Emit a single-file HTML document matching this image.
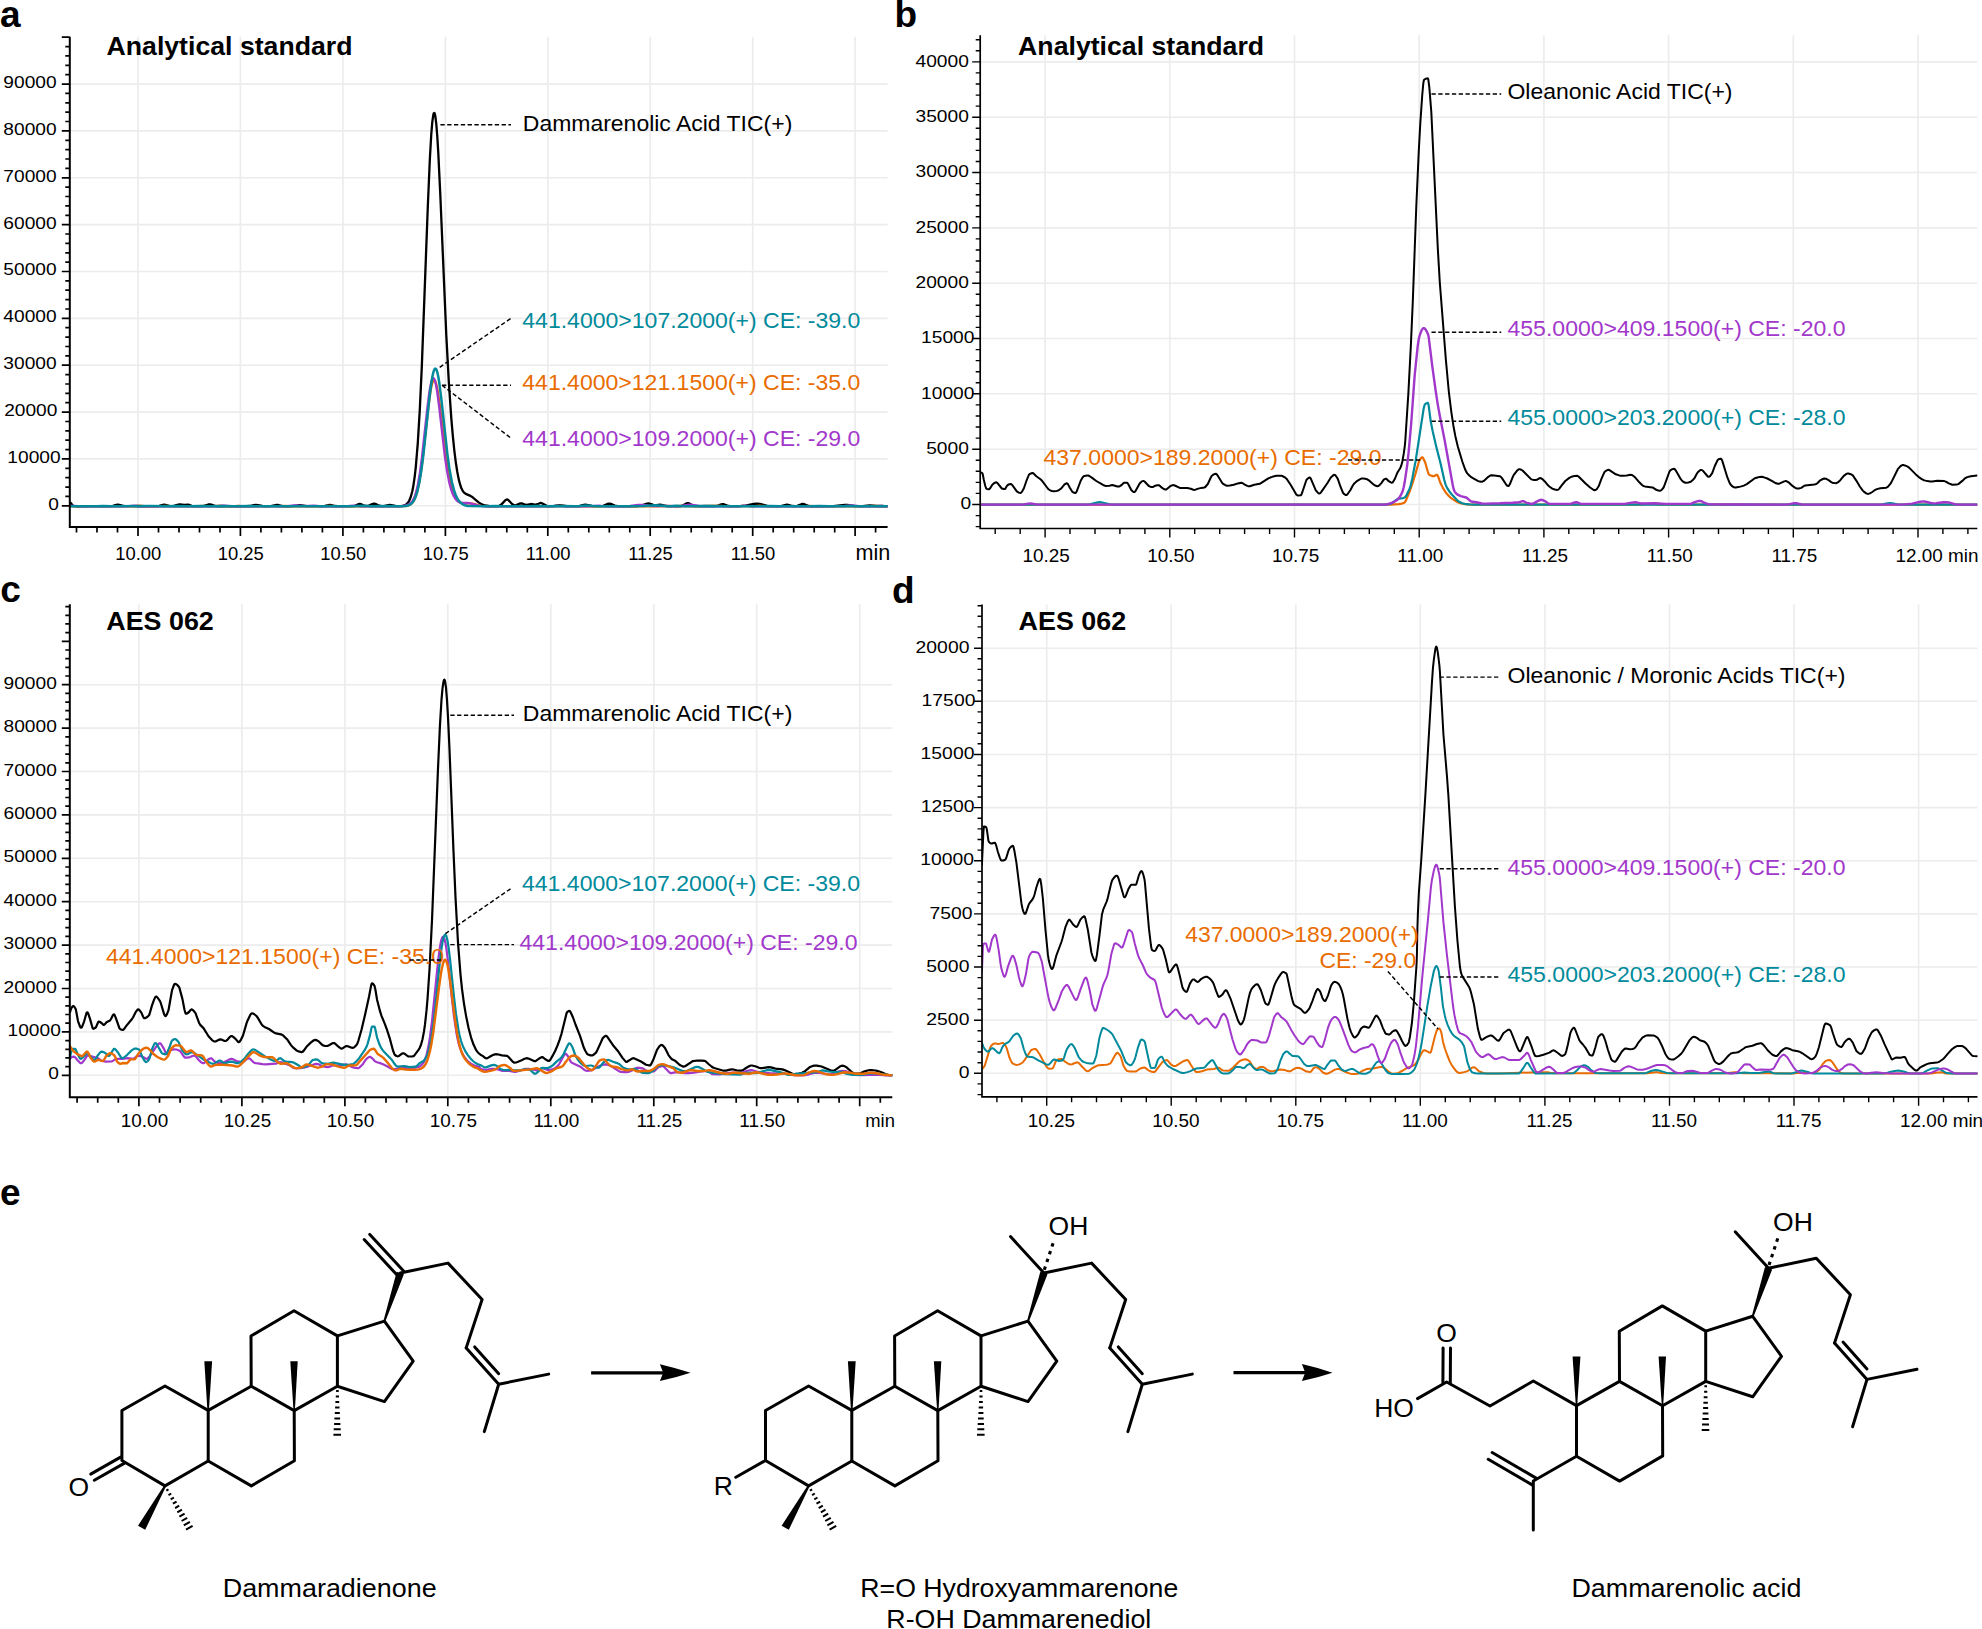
<!DOCTYPE html>
<html lang="en"><head><meta charset="utf-8"><title>Figure</title>
<style>html,body{margin:0;padding:0;background:#fff}body{width:1982px;height:1629px;overflow:hidden}svg{display:block}</style></head><body>
<svg width="1982" height="1629" viewBox="0 0 1982 1629" font-family="'Liberation Sans', Arial, Helvetica, sans-serif" fill="#000">
<rect width="1982" height="1629" fill="#fff"/>
<path d="M138 36.7V527.1M240.4 36.7V527.1M342.9 36.7V527.1M445.4 36.7V527.1M547.8 36.7V527.1M650.2 36.7V527.1M752.7 36.7V527.1M855.1 36.7V527.1M69.8 505.8H887.6M69.8 458.9H887.6M69.8 412.1H887.6M69.8 365.2H887.6M69.8 318.4H887.6M69.8 271.5H887.6M69.8 224.6H887.6M69.8 177.8H887.6M69.8 130.9H887.6M69.8 84.1H887.6" stroke="#ececed" stroke-width="1.6" fill="none"/>
<clipPath id="ca"><rect x="69.8" y="36.7" width="817.8" height="490.4"/></clipPath>
<path d="M69.8 503.4L70.3 502.9L70.8 503L72.8 505.6L73.8 506.1L78.8 506.3L88.3 506.1L110.3 506.2L112.8 505.9L116.3 504.9L117.8 504.7L119.3 504.8L122.3 505.6L124.3 505.9L139.3 506.3L156.8 506.2L159.3 505.8L162.8 504.8L164.3 504.7L169.3 505.9L171.3 506.1L173.8 505.9L178.3 504.6L179.8 504.4L184.3 504.9L188.3 504.7L191.8 505.8L193.8 506.2L200.3 506.2L203.8 505.9L208.3 504.5L209.8 504.3L211.3 504.6L215.3 506L219.3 506.3L246.8 506.2L249.8 506L253.8 505.1L255.8 504.9L257.8 505.1L262.3 506L265.8 506.3L270.8 506.1L276.8 504.9L278.3 505L282.8 506.1L286.3 506.3L292.3 506.2L299.8 505.2L307.3 506.2L321.8 506.1L324.8 505.9L329.8 505L331.3 505.1L335.3 506L337.3 506.2L347.3 506.1L352.3 506.2L354.8 505.9L358.3 504.2L359.8 503.9L360.8 504.1L364.3 505.7L365.8 505.9L367.3 505.9L368.8 505.5L372.3 504L373.8 503.6L375.3 503.9L379.3 505.7L381.3 506.1L383.8 506.1L388.3 505.1L389.8 505L391.3 505.2L395.3 506L398.3 506.2L401.3 506.1L403.8 505.6L405.8 504.7L407.3 503.5L408.3 502.2L409.3 500.5L410.8 496.8L412.3 491.2L413.3 486.1L414.8 475.8L415.8 466.8L417.8 442.8L419.8 409.6L421.8 366.9L427.8 206.7L429.8 160L431.3 133.8L432.3 121.9L433.3 114.8L433.8 113.2L434.3 112.9L434.8 113.8L435.3 116L436.3 124.1L437.3 136.6L438.3 153.1L440.3 194.7L446.3 335.3L448.8 381.9L451.3 418.3L452.8 435.7L454.3 450.3L455.8 462.3L457.3 472L458.8 479.6L460.3 485.2L461.3 488L462.3 490.1L463.3 491.7L464.3 492.8L465.8 493.9L469.8 495.6L471.8 496.7L478.3 502.1L481.3 504.2L484.8 505.5L488.8 506L496.8 506.2L499.3 505.8L501.3 504.6L505.3 500.3L506.8 499.5L507.3 499.5L508.3 500L512.3 504.2L513.3 504.9L514.3 505.2L515.3 505.3L516.3 505.1L519.3 503.7L520.8 503.3L522.3 503.5L525.3 504.7L526.8 504.9L530.8 504L532.3 504.1L534.8 504.6L535.8 504.6L537.3 504.2L539.8 503.2L540.8 503L542.3 503.4L545.3 505.1L546.8 505.8L548.3 506.1L550.3 506.2L554.3 506L559.8 505.1L566.8 506.2L577.3 506.2L579.8 505.9L583.8 504.9L585.3 504.7L591.8 506L600.3 506.2L603.3 505.8L607.3 504L609.3 503.6L610.8 503.9L614.8 505.6L617.8 506.1L625.3 506.3L637.8 506.1L641.3 505.7L646.3 503.9L648.3 503.5L650.3 503.8L653.3 504.9L654.8 505.2L656.3 505.2L660.3 504.7L666.8 506.1L678.3 506.3L680.8 506.1L682.3 505.7L686.3 503.5L687.8 503.2L689.3 503.5L693.3 505.7L694.8 506.1L696.8 506.2L705.8 506L715.3 506.2L717.3 505.8L721.3 504.3L722.8 504.1L723.8 504.2L727.3 505.6L729.3 506L733.3 506.2L740.3 506.2L745.3 505.7L753.8 504L756.8 503.6L759.8 503.9L767.3 505.8L773.8 506.2L780.8 506.1L786.8 504.7L788.3 504.8L792.3 506L795.3 506.1L797.3 505.8L801.3 504.2L802.8 503.9L804.3 504.2L808.3 505.9L811.8 506.3L833.3 506.2L844.8 504.9L847.3 505L853.8 506L857.3 506.2L862.3 506.1L869.8 505.3L876.8 506L882.3 506L887.3 506.3" fill="none" stroke="#000" stroke-width="2.3" stroke-linejoin="round" stroke-linecap="round" clip-path="url(#ca)"/>
<path d="M69.8 506.1L78.3 506.3L131.3 506.3L139.3 505.7L147.3 506.3L156.3 506.3L165.3 505.9L175.8 506.3L193.3 506.3L202.3 505.9L211.8 506.3L214.8 506.2L220.3 505.7L226.3 506.2L229.8 506.3L238.3 506L246.3 506.3L267.8 506.2L278.3 506.3L284.8 506L292.8 506.3L302.3 506.3L308.3 506.1L319.8 506.3L330.3 506L341.8 506.3L353.3 506.3L359.3 506.1L365.8 506.3L393.3 506.3L404.3 506.1L406.8 505.8L408.8 505.3L410.3 504.5L411.8 503.3L413.3 501.5L414.3 499.8L415.8 496.2L416.8 493.1L418.8 484.6L420.3 476.1L422.3 461.9L428.3 407.9L430.3 392.8L431.3 387L432.3 382.9L433.3 380.5L433.8 380.1L434.3 380L434.8 380.4L435.3 381.3L436.3 384.2L437.3 388.6L438.3 394.4L440.3 408.9L444.3 442.4L446.3 457.6L448.3 470.5L450.3 480.7L452.8 490L454.3 494.1L455.8 497.3L457.3 499.7L458.8 501.4L460.3 502.5L462.3 503.4L464.8 503.7L469.3 503.3L471.3 503.4L473.8 503.9L478.8 505.3L481.3 505.8L484.8 506.2L489.3 506.3L500.8 506.1L549.3 506.3L560.3 505.8L570.8 506.3L579.8 506.1L589.8 506.3L601.8 506.1L611.8 506.3L656.8 506.3L666.3 506L673.8 506.2L680.8 505.9L687.8 506.2L695.3 506.3L706.8 506.2L716.3 505.6L724.3 506.2L729.8 506.3L737.3 506.3L742.8 505.8L748.3 506.2L752.3 506.3L759.8 505.7L765.8 506.2L769.3 506.3L779.8 506.2L800.8 506.3L809.3 506L817.3 506.3L839.3 506.3L848.8 506L863.3 506.3L874.3 506L887.3 506.3" fill="none" stroke="#e86c00" stroke-width="2.3" stroke-linejoin="round" stroke-linecap="round" clip-path="url(#ca)"/>
<path d="M69.8 505.7L82.8 506.3L92.3 506.1L125.3 506.3L134.3 505.7L142.8 506.3L149.3 506.1L157.3 506.3L178.3 506.3L185.3 506.1L192.8 506.3L213.8 506.3L223.8 505.7L234.3 506.3L267.3 506.2L280.3 506.3L286.8 506.2L294.8 505.5L304.8 506.2L313.8 505.7L322.3 506.3L333.3 506.1L344.3 506.3L353.3 505.7L362.3 506.3L394.8 506.3L401.8 506L404.8 505.6L407.3 504.9L409.3 504L410.8 502.9L412.3 501.2L413.3 499.6L414.8 496.2L415.8 493.2L417.8 485L419.8 473.5L421.8 458.7L427.3 408.5L429.3 392.6L430.3 386.5L431.3 382L432.3 379.2L432.8 378.5L433.3 378.2L433.8 378.4L434.3 379.1L435.3 381.9L436.3 386.5L437.3 392.5L439.3 407.9L444.8 455.8L446.8 469.6L448.8 480.4L449.8 484.7L451.3 490L452.3 492.8L453.8 496.2L455.3 498.7L456.8 500.5L458.3 501.7L460.3 502.7L462.3 503L467.3 502.9L469.3 503.1L478.8 505.7L482.3 506.1L486.8 506.3L548.8 506.3L557.3 505.9L565.3 506.3L588.3 506.3L592.3 506.2L598.3 505.7L605.8 506.3L624.3 506.3L630.3 506L638.3 504.9L641.3 504.8L643.8 504.9L649.8 505.9L653.3 506.2L657.8 506.2L665.8 505.8L676.3 506.2L681.3 506L687.3 504.9L689.8 504.7L692.3 504.9L699.3 506L705.3 506.3L737.3 506.3L744.8 505.7L750.3 506.2L753.3 506.3L781.3 506.3L790.3 506.1L799.8 506.3L815.8 506.1L827.8 506.3L836.3 506.1L843.3 506.2L851.8 505.5L861.8 506.3L873.8 506.3L880.8 506L887.3 506.3" fill="none" stroke="#a238cb" stroke-width="2.3" stroke-linejoin="round" stroke-linecap="round" clip-path="url(#ca)"/>
<path d="M69.8 506.3L96.3 506.3L103.3 505.9L111.3 506.3L150.8 506.1L165.3 506.3L175.8 505.9L186.8 506.3L200.8 505.9L211.8 506.3L222.3 506.1L235.3 506.3L249.3 506.1L260.3 506.3L293.8 506.2L349.3 506.3L354.3 506.2L362.3 505.7L371.3 506.2L379.8 506L401.3 506.2L405.8 506L408.8 505.2L410.8 504.1L412.3 502.8L413.8 500.7L414.8 498.7L416.3 494.9L417.3 491.6L419.3 482.8L421.3 470.8L423.3 455.6L429.3 399.2L431.3 383.3L432.3 377.1L433.3 372.5L434.3 369.6L434.8 368.9L435.3 368.6L435.8 368.8L436.3 369.4L437.3 372.2L438.3 376.7L439.3 382.8L441.3 398.6L447.3 453.3L449.3 467.9L451.8 481.7L454.3 491.2L455.8 495.3L457.3 498.4L458.8 500.7L460.8 502.9L462.8 504.3L465.3 505.4L467.8 505.9L470.3 506.1L486.3 506.3L495.3 506L504.3 506.3L529.3 506.3L536.8 506.1L544.8 506.3L562.3 506.1L574.3 506.3L578.3 506.2L585.8 505.6L596.3 506.3L629.8 506.3L643.8 506.1L655.3 505.3L658.8 505.4L667.8 506.2L670.8 506.2L675.8 505.8L684.3 506.3L712.3 506.1L724.3 506.3L759.3 506.3L769.8 506.1L780.3 506.3L808.3 506.3L819.3 505.9L829.3 506.3L841.8 506.3L848.8 506.1L856.8 506.3L887.3 506.3" fill="none" stroke="#008a9b" stroke-width="2.5" stroke-linejoin="round" stroke-linecap="round" clip-path="url(#ca)"/>
<path d="M69.8 36.7V527.1H887.6" stroke="#000" stroke-width="2.0" fill="none" stroke-linejoin="miter"/>
<path d="M69.8 505.8H65.3M69.8 496.4H65.3M69.8 487.1H65.3M69.8 477.7H65.3M69.8 468.3H65.3M69.8 458.9H65.3M69.8 449.6H65.3M69.8 440.2H65.3M69.8 430.8H65.3M69.8 421.5H65.3M69.8 412.1H65.3M69.8 402.7H65.3M69.8 393.3H65.3M69.8 384H65.3M69.8 374.6H65.3M69.8 365.2H65.3M69.8 355.8H65.3M69.8 346.5H65.3M69.8 337.1H65.3M69.8 327.7H65.3M69.8 318.4H65.3M69.8 309H65.3M69.8 299.6H65.3M69.8 290.2H65.3M69.8 280.9H65.3M69.8 271.5H65.3M69.8 262.1H65.3M69.8 252.8H65.3M69.8 243.4H65.3M69.8 234H65.3M69.8 224.6H65.3M69.8 215.3H65.3M69.8 205.9H65.3M69.8 196.5H65.3M69.8 187.2H65.3M69.8 177.8H65.3M69.8 168.4H65.3M69.8 159H65.3M69.8 149.7H65.3M69.8 140.3H65.3M69.8 130.9H65.3M69.8 121.5H65.3M69.8 112.2H65.3M69.8 102.8H65.3M69.8 93.4H65.3M69.8 84.1H65.3M69.8 74.7H65.3M69.8 65.3H65.3M69.8 55.9H65.3M69.8 46.6H65.3M69.8 37.2H65.3M69.8 505.8H61.8M69.8 458.9H61.8M69.8 412.1H61.8M69.8 365.2H61.8M69.8 318.4H61.8M69.8 271.5H61.8M69.8 224.6H61.8M69.8 177.8H61.8M69.8 130.9H61.8M69.8 84.1H61.8M69.8 37.2H61.8M76.5 527.1V532.6M97 527.1V532.6M117.5 527.1V532.6M138 527.1V532.6M158.5 527.1V532.6M179 527.1V532.6M199.5 527.1V532.6M220 527.1V532.6M240.4 527.1V532.6M260.9 527.1V532.6M281.4 527.1V532.6M301.9 527.1V532.6M322.4 527.1V532.6M342.9 527.1V532.6M363.4 527.1V532.6M383.9 527.1V532.6M404.4 527.1V532.6M424.9 527.1V532.6M445.4 527.1V532.6M465.8 527.1V532.6M486.3 527.1V532.6M506.8 527.1V532.6M527.3 527.1V532.6M547.8 527.1V532.6M568.3 527.1V532.6M588.8 527.1V532.6M609.3 527.1V532.6M629.8 527.1V532.6M650.2 527.1V532.6M670.7 527.1V532.6M691.2 527.1V532.6M711.7 527.1V532.6M732.2 527.1V532.6M752.7 527.1V532.6M773.2 527.1V532.6M793.7 527.1V532.6M814.2 527.1V532.6M834.7 527.1V532.6M855.1 527.1V532.6M875.6 527.1V532.6M138 527.1V536.1M240.4 527.1V536.1M342.9 527.1V536.1M445.4 527.1V536.1M547.8 527.1V536.1M650.2 527.1V536.1M752.7 527.1V536.1M855.1 527.1V536.1" stroke="#000" stroke-width="1.7" fill="none"/>
<text transform="translate(58.8 510.3) scale(1.127 1)" font-size="17.0" text-anchor="end">0</text>
<text transform="translate(60.6 463.3) scale(1.127 1)" font-size="17.0" text-anchor="end">10000</text>
<text transform="translate(57.4 416.4) scale(1.127 1)" font-size="17.0" text-anchor="end">20000</text>
<text transform="translate(56.6 369.4) scale(1.127 1)" font-size="17.0" text-anchor="end">30000</text>
<text transform="translate(56.6 322.4) scale(1.127 1)" font-size="17.0" text-anchor="end">40000</text>
<text transform="translate(56.6 275.4) scale(1.127 1)" font-size="17.0" text-anchor="end">50000</text>
<text transform="translate(56.6 228.5) scale(1.127 1)" font-size="17.0" text-anchor="end">60000</text>
<text transform="translate(56.6 181.5) scale(1.127 1)" font-size="17.0" text-anchor="end">70000</text>
<text transform="translate(56.6 134.5) scale(1.127 1)" font-size="17.0" text-anchor="end">80000</text>
<text transform="translate(56.6 87.6) scale(1.127 1)" font-size="17.0" text-anchor="end">90000</text>
<text transform="translate(138.3 560) scale(1 1)" font-size="18.4" text-anchor="middle">10.00</text>
<text transform="translate(240.8 560) scale(1 1)" font-size="18.4" text-anchor="middle">10.25</text>
<text transform="translate(343.2 560) scale(1 1)" font-size="18.4" text-anchor="middle">10.50</text>
<text transform="translate(445.7 560) scale(1 1)" font-size="18.4" text-anchor="middle">10.75</text>
<text transform="translate(548.1 560) scale(1 1)" font-size="18.4" text-anchor="middle">11.00</text>
<text transform="translate(650.5 560) scale(1 1)" font-size="18.4" text-anchor="middle">11.25</text>
<text transform="translate(753 560) scale(1 1)" font-size="18.4" text-anchor="middle">11.50</text>
<text x="855.5" y="560" font-size="21.6">min</text>
<text x="106.5" y="55.2" font-size="25.8" font-weight="bold" textLength="246" lengthAdjust="spacingAndGlyphs">Analytical standard</text>
<text x="0" y="27" font-size="37" font-weight="bold">a</text>
<line x1="440.4" y1="124.8" x2="511" y2="124.8" stroke="#000" stroke-width="1.45" stroke-dasharray="4.3 2.5"/>
<text x="522.8" y="131.3" font-size="22.3" textLength="269.5" lengthAdjust="spacingAndGlyphs">Dammarenolic Acid TIC(+)</text>
<line x1="439.7" y1="367.3" x2="511" y2="318.3" stroke="#000" stroke-width="1.45" stroke-dasharray="4.3 2.5"/>
<line x1="442" y1="385.2" x2="511" y2="385.2" stroke="#000" stroke-width="1.45" stroke-dasharray="4.3 2.5"/>
<line x1="442" y1="385.2" x2="510.5" y2="437.8" stroke="#000" stroke-width="1.45" stroke-dasharray="4.3 2.5"/>
<text x="522.3" y="327.8" font-size="22.5" fill="#008a9b" textLength="338" lengthAdjust="spacingAndGlyphs">441.4000&gt;107.2000(+) CE: -39.0</text>
<text x="522.3" y="390.3" font-size="22.5" fill="#e86c00" textLength="338" lengthAdjust="spacingAndGlyphs">441.4000&gt;121.1500(+) CE: -35.0</text>
<text x="522.3" y="445.5" font-size="22.5" fill="#a238cb" textLength="338" lengthAdjust="spacingAndGlyphs">441.4000&gt;109.2000(+) CE: -29.0</text>
<path d="M1045.1 35.2V528.5M1169.8 35.2V528.5M1294.5 35.2V528.5M1419.2 35.2V528.5M1543.9 35.2V528.5M1668.6 35.2V528.5M1793.3 35.2V528.5M1918 35.2V528.5M980.2 504.5H1977.3M980.2 449.2H1977.3M980.2 393.8H1977.3M980.2 338.5H1977.3M980.2 283.2H1977.3M980.2 227.9H1977.3M980.2 172.5H1977.3M980.2 117.2H1977.3M980.2 61.9H1977.3" stroke="#ececed" stroke-width="1.6" fill="none"/>
<clipPath id="cb"><rect x="980.2" y="35.2" width="997.1" height="493.3"/></clipPath>
<path d="M979.8 472.4L981.3 472.6L982.3 473.1L982.8 474.5L983.8 479.8L985.3 486L986.3 488.6L986.8 488.9L988.3 489.3L989.3 489.2L990.3 488L992.3 484.7L994.3 483L995.8 482.3L996.3 482.3L997.3 482.9L1001.8 488.5L1003.8 489L1004.8 489.1L1005.3 488.7L1006.8 486.1L1007.8 485L1009.3 484.2L1010.8 483.9L1011.3 484.1L1012.3 485.1L1016.8 491.3L1018.8 492.6L1020.3 493L1020.8 492.9L1021.8 491.9L1023.8 488.5L1026.3 481.2L1028.8 475L1029.3 474.3L1030.3 473.7L1032.3 473L1033.3 473.3L1036.3 476.2L1040.8 479.5L1042.3 481.2L1047.8 488.5L1048.8 489.5L1050.3 490.4L1051.8 491L1053.3 491.2L1056.8 490.9L1058.3 490.5L1061.3 488.4L1064.3 484.7L1065.8 483.7L1066.8 483.3L1067.3 483.4L1067.8 483.9L1069.8 487.8L1072.3 491.8L1073.3 492.5L1075.3 493L1075.8 492.8L1076.8 491.2L1080.8 480.5L1082.3 477.9L1083.3 476.6L1084.3 475.9L1087.3 475.4L1088.3 475.5L1089.3 476L1091.8 477.6L1096.3 481L1101.3 483.8L1103.8 485.3L1105.3 485.9L1109.3 485.7L1112.3 485.1L1113.3 485.2L1117.3 486.5L1118.8 486.6L1119.8 486.2L1121.8 484.9L1123.3 483.3L1124.3 482.7L1126.8 482.7L1127.3 482.8L1128.3 484.3L1131.3 490L1132.8 491.5L1133.8 492.1L1134.3 492.1L1134.8 491.9L1135.8 490.6L1139.8 483.2L1141.8 481.4L1143.3 480.9L1143.8 481L1144.8 481.7L1148.8 486L1150.3 486.7L1151.8 487.1L1152.8 487.1L1155.3 485.7L1157.3 485.2L1158.8 485.2L1159.8 485.8L1161.8 487.7L1163.8 489L1165.3 489.5L1166.3 489.4L1169.3 486.9L1171.3 485.6L1172.8 485.1L1174.8 485.5L1180.3 488.1L1187.3 488L1190.8 488.8L1193.3 489.8L1194.8 489.9L1198.3 488.6L1201.3 487.9L1204.3 487.5L1205.3 487L1207.8 484L1210.8 477.5L1211.8 475.8L1213.8 474.4L1214.8 474L1215.8 473.8L1216.3 474L1217.3 475L1221.8 482.3L1222.8 483.6L1225.3 485.2L1227.3 485.7L1229.8 485.5L1233.8 484.8L1237.8 483.4L1241.3 482.7L1242.3 483L1244.8 484.7L1247.3 485.9L1248.8 486.3L1249.8 486.3L1254.3 484.8L1259.8 483.8L1268.3 478.4L1273.3 476.4L1276.3 475.8L1281.3 475.8L1282.3 476L1284.8 477.3L1286.8 479.1L1290.3 484.2L1296.3 494.4L1297.3 495.3L1297.8 495.4L1300.8 495.3L1301.3 494.8L1302.3 492.2L1306.3 480.2L1307.8 478.5L1309.3 477.5L1309.8 477.5L1310.3 477.9L1310.8 478.7L1315.8 490.3L1317.8 492.7L1318.8 493.4L1319.3 493.6L1320.3 493.1L1321.3 491.9L1327.3 483.2L1330.8 477.4L1333.3 475.2L1334.3 474.8L1334.8 474.9L1335.8 475.7L1337.8 478.9L1340.3 486.2L1342.8 492.4L1343.3 493.2L1344.3 494.2L1345.8 495.1L1346.8 494.9L1347.8 493.8L1350.3 490.2L1352.8 485.5L1354.3 483.4L1357.3 480.8L1359.8 479.3L1361.3 478.6L1362.3 478.4L1363.8 478.5L1367.3 479.3L1368.8 480.3L1373.8 484.7L1375.8 485.8L1377.3 486.3L1378.3 486.1L1379.3 485.3L1381.3 483.1L1383.8 479.7L1385.3 478.8L1386.3 478.8L1388.3 480.8L1390.8 482.4L1391.8 482.7L1392.3 482.6L1392.8 482.2L1394.8 479L1397.3 472.8L1400.3 467.9L1401.3 465.5L1402.3 461.7L1403.8 453.4L1404.8 445.8L1405.3 440.5L1408.3 394.4L1410.8 346.6L1412.8 301.4L1416.3 206.1L1418.8 150.5L1420.3 123.1L1422.3 94.3L1423.3 83.5L1423.8 80.5L1424.3 79.6L1425.3 79L1426.8 78.4L1427.8 78.3L1428.3 79.5L1429.3 87.1L1431.3 111.9L1437.8 248.4L1439.8 282.5L1445.8 359L1448.8 391.5L1451.3 411.8L1453.3 425.2L1455.3 435.9L1457.8 446.5L1462.3 461.5L1465.3 469.8L1466.3 471.9L1467.3 473.4L1469.3 475.5L1471.3 477.2L1473.3 478.4L1477.8 480.9L1479.8 481.6L1481.3 481.8L1482.3 481.7L1483.8 480.9L1488.3 476.8L1490.3 475.5L1491.3 475.3L1494.3 475.5L1499.8 476.2L1500.8 476.8L1501.8 477.9L1506.3 484.8L1507.3 485.8L1508.3 486.1L1508.8 485.8L1509.8 484.3L1512.8 476.8L1513.8 474.9L1517.3 470.4L1518.8 469.3L1519.8 469.2L1521.3 469.7L1522.8 470.8L1531.3 479.4L1533.3 479.9L1535.8 480.1L1536.8 479.8L1539.3 478.3L1540.3 478.1L1540.8 478.2L1542.3 479.1L1544.8 481.4L1547.8 485.1L1549.3 486.5L1552.3 488.6L1554.8 489.5L1557.3 489.9L1558.3 489.6L1559.3 488.6L1561.3 485.8L1565.3 481L1569.3 477.9L1570.8 477.1L1572.3 476.5L1574.8 475.9L1576.8 475.7L1577.8 476L1578.8 476.7L1585.3 483.2L1589.8 487.3L1593.3 489.7L1594.8 490.2L1595.3 490.1L1596.3 489.5L1597.3 488.3L1598.8 486L1601.3 479.1L1604.3 472.3L1604.8 471.7L1606.3 470.6L1607.3 470.1L1608.3 469.8L1609.8 470.3L1615.8 474.3L1619.3 475.4L1620.8 475.7L1622.8 475.7L1626.8 475.4L1630.3 474.8L1631.8 474.9L1632.8 475.5L1635.3 477.6L1639.3 482.3L1641.8 484.8L1643.3 486L1644.8 486.4L1652.3 487.4L1653.3 487.8L1656.3 489.8L1658.3 490.6L1659.8 490.8L1660.8 490.5L1661.8 489.7L1663.3 488L1663.8 487.1L1669.3 472L1670.3 470.3L1671.8 469.4L1673.8 468.8L1674.3 468.9L1674.8 469.2L1675.8 470.6L1680.8 479.2L1681.8 480.4L1682.8 481.3L1684.3 482.3L1685.3 482.7L1686.3 482.8L1688.3 482.5L1690.8 481.8L1692.8 480L1694.3 478.4L1696.8 473.8L1697.8 472.3L1699.8 470.5L1700.8 469.9L1701.8 470L1702.8 470.7L1707.8 476.5L1708.8 476.8L1709.8 476.3L1710.8 475.1L1712.3 472.9L1714.8 466L1717.3 460.7L1718.3 459.4L1719.3 459L1720.8 458.7L1721.3 458.9L1722.3 460.9L1727.3 477.2L1729.8 483.3L1730.3 484.2L1731.3 485.4L1732.8 486.6L1734.3 487.4L1735.8 487.5L1738.3 487.1L1741.3 486.4L1743.8 485.6L1746.8 484.1L1754.8 478.3L1758.3 477.2L1761.3 476.8L1763.3 477.1L1767.3 478.5L1771.8 480.8L1775.3 483L1777.8 483.8L1779.3 483.7L1784.3 481.4L1785.3 481.1L1786.3 481.1L1787.3 481.6L1789.3 482.9L1792.8 486.2L1795.3 487.9L1796.8 488.5L1798.8 488.5L1801.3 487.9L1804.3 485.8L1805.3 485.5L1814.3 484.4L1816.3 484L1817.3 483.3L1820.3 480.3L1822.8 479L1824.3 478.5L1825.8 478.8L1827.3 479.4L1829.3 480.6L1831.3 482.2L1832.3 482.7L1834.3 483.1L1836.3 483.2L1837.8 482.4L1840.3 480.2L1843.8 475.9L1846.3 474L1847.3 473.6L1848.3 473.5L1850.8 474.2L1852.8 475.4L1856.3 480.6L1859.8 486.5L1862.8 490.6L1863.8 491.6L1866.3 493.4L1867.3 493.8L1868.3 493.9L1869.8 493.4L1872.3 492L1875.3 489.8L1876.8 489.1L1880.3 488.3L1886.3 487.7L1887.8 486.8L1890.3 483.9L1891.3 482.4L1897.8 469.2L1900.3 466.4L1901.3 465.6L1902.3 465.1L1903.3 465.1L1904.8 465.4L1907.8 466.7L1909.3 467.9L1915.8 474.4L1918.8 477.1L1921.8 479.1L1924.3 480.4L1927.3 481.1L1930.3 481.5L1932.3 481.4L1937.3 480.8L1944.3 481.1L1945.8 481.6L1948.8 483.4L1952.3 484.8L1956.8 484.6L1958.3 484.1L1962.3 480.9L1965.3 478.1L1967.3 477.1L1970.8 476.2L1977.1 475.5" fill="none" stroke="#000" stroke-width="2.0" stroke-linejoin="round" stroke-linecap="round" clip-path="url(#cb)"/>
<path d="M980.2 504.6L1390.2 504.6L1398.7 504.1L1401.7 503.6L1404.2 502.8L1405.2 501.7L1406.2 499.9L1410.2 490L1411.7 485.7L1415.2 474.6L1418.7 462.2L1419.2 461L1420.7 458.5L1421.7 457.4L1422.2 457.3L1422.7 457.5L1423.2 458.2L1425.2 462.5L1427.7 471.3L1428.7 474.1L1429.2 474.7L1430.2 475.3L1432.7 476.1L1433.7 476.2L1436.2 474.9L1436.7 474.8L1437.2 474.9L1438.2 476.7L1440.2 482.5L1443.2 488.4L1445.7 492.5L1448.2 495.4L1450.2 497.3L1452.2 498.9L1457.7 502.2L1461.2 503.5L1466.7 504.3L1479.7 504.6L1640.2 504.6L1650.2 503.8L1660.2 504.6L1977.3 504.6" fill="none" stroke="#e86c00" stroke-width="2.2" stroke-linejoin="round" stroke-linecap="round" clip-path="url(#cb)"/>
<path d="M980.2 504.6L1087.2 504.6L1089.7 504.3L1097.7 502.4L1099.7 502.2L1102.2 502.5L1109.7 504.3L1112.2 504.6L1384.7 504.6L1386.7 504.5L1389.2 504.1L1391.2 503.6L1392.2 503.1L1396.2 499.9L1397.7 498.9L1399.2 498.6L1403.2 498.1L1404.7 497.5L1405.7 496.4L1406.7 494.8L1409.7 488.4L1410.7 485.3L1412.2 478.9L1415.7 460.4L1423.7 408.4L1424.7 404.7L1425.2 404.1L1426.2 403.4L1427.7 402.8L1428.2 403.4L1428.7 405.9L1430.7 421.4L1432.7 431.3L1436.2 446.4L1440.7 464.1L1444.2 479.7L1445.7 484.9L1447.2 488.1L1449.2 491.2L1451.2 493.7L1456.7 499.7L1458.2 501.1L1459.7 502.1L1462.2 503.2L1464.7 503.9L1469.2 504.4L1474.7 504.6L1879.7 504.6L1882.2 504.4L1887.7 503.3L1890.2 503.1L1892.2 503.3L1897.2 504.3L1899.7 504.6L1977.3 504.6" fill="none" stroke="#008a9b" stroke-width="2.2" stroke-linejoin="round" stroke-linecap="round" clip-path="url(#cb)"/>
<path d="M980.2 504.6L1022.2 504.6L1024.2 504.4L1028.2 503.6L1030.2 503.4L1032.2 503.6L1036.2 504.4L1038.2 504.6L1384.7 504.6L1387.2 504.3L1392.2 502.7L1394.7 501.5L1397.2 499.9L1398.7 498.4L1400.2 496.2L1401.7 493.4L1402.7 491.1L1403.7 487.3L1404.7 482.1L1407.2 465.3L1408.7 451.4L1411.2 423.4L1414.7 375.2L1417.7 346.2L1418.7 339.5L1419.2 337.2L1420.2 334L1421.2 331.3L1422.2 329.3L1423.2 328.2L1423.7 328.1L1424.2 328.2L1425.2 329L1426.7 331.3L1428.2 334.8L1428.7 337.2L1432.2 365.6L1435.7 391L1437.7 404.1L1439.7 415.3L1444.7 440.5L1452.7 484.7L1453.7 489.2L1454.7 491.8L1456.2 493.5L1457.7 494.7L1460.7 496.1L1466.2 497.5L1467.2 498.1L1470.2 500.9L1471.2 501.5L1477.7 502.5L1481.7 503.5L1486.2 503.6L1499.7 503.3L1512.7 502.7L1519.2 502.2L1522.7 501.1L1523.7 501.3L1526.7 502.8L1529.7 503.5L1532.2 503.8L1533.7 503.4L1536.2 501.9L1539.7 500.2L1541.7 499.8L1543.7 500.5L1546.2 501.9L1548.2 503.4L1549.7 503.9L1569.7 503.9L1571.2 503.7L1574.7 502.5L1576.2 502.2L1577.2 502.3L1580.2 503.6L1581.7 503.9L1624.7 503.9L1631.7 502.6L1635.2 502.2L1636.7 502.4L1640.2 503.3L1641.7 503.5L1655.7 503.3L1665.2 503.9L1689.7 503.9L1691.2 503.7L1694.7 502.1L1697.2 501.4L1698.7 501L1700.2 500.9L1701.7 501.3L1704.2 502.7L1706.7 503.7L1708.7 504.2L1740.2 504.5L1786.2 504.6L1788.2 504.4L1793.2 503.3L1795.2 503.1L1797.2 503.3L1801.7 504.4L1803.7 504.6L1899.7 504.6L1904.7 504.4L1912.2 503.6L1920.2 501.7L1923.2 501.4L1925.7 501.7L1930.7 503L1933.2 503.4L1936.2 503.3L1943.2 502.3L1946.2 502.1L1948.7 502.4L1954.7 504.1L1957.2 504.6L1977.3 504.6" fill="none" stroke="#a238cb" stroke-width="2.4" stroke-linejoin="round" stroke-linecap="round" clip-path="url(#cb)"/>
<path d="M980.2 35.2V528.5H1977.3" stroke="#000" stroke-width="1.7" fill="none" stroke-linejoin="miter"/>
<path d="M980.2 526.6H975.7M980.2 515.6H975.7M980.2 504.5H975.7M980.2 493.4H975.7M980.2 482.4H975.7M980.2 471.3H975.7M980.2 460.2H975.7M980.2 449.2H975.7M980.2 438.1H975.7M980.2 427H975.7M980.2 416H975.7M980.2 404.9H975.7M980.2 393.8H975.7M980.2 382.8H975.7M980.2 371.7H975.7M980.2 360.6H975.7M980.2 349.6H975.7M980.2 338.5H975.7M980.2 327.4H975.7M980.2 316.4H975.7M980.2 305.3H975.7M980.2 294.2H975.7M980.2 283.2H975.7M980.2 272.1H975.7M980.2 261H975.7M980.2 250H975.7M980.2 238.9H975.7M980.2 227.9H975.7M980.2 216.8H975.7M980.2 205.7H975.7M980.2 194.7H975.7M980.2 183.6H975.7M980.2 172.5H975.7M980.2 161.5H975.7M980.2 150.4H975.7M980.2 139.3H975.7M980.2 128.3H975.7M980.2 117.2H975.7M980.2 106.1H975.7M980.2 95.1H975.7M980.2 84H975.7M980.2 72.9H975.7M980.2 61.9H975.7M980.2 50.8H975.7M980.2 39.7H975.7M980.2 504.5H972.2M980.2 449.2H972.2M980.2 393.8H972.2M980.2 338.5H972.2M980.2 283.2H972.2M980.2 227.9H972.2M980.2 172.5H972.2M980.2 117.2H972.2M980.2 61.9H972.2M995.2 528.5V533.9M1020.2 528.5V533.9M1045.1 528.5V533.9M1070 528.5V533.9M1095 528.5V533.9M1119.9 528.5V533.9M1144.9 528.5V533.9M1169.8 528.5V533.9M1194.7 528.5V533.9M1219.7 528.5V533.9M1244.6 528.5V533.9M1269.6 528.5V533.9M1294.5 528.5V533.9M1319.4 528.5V533.9M1344.4 528.5V533.9M1369.3 528.5V533.9M1394.3 528.5V533.9M1419.2 528.5V533.9M1444.1 528.5V533.9M1469.1 528.5V533.9M1494 528.5V533.9M1519 528.5V533.9M1543.9 528.5V533.9M1568.8 528.5V533.9M1593.8 528.5V533.9M1618.7 528.5V533.9M1643.7 528.5V533.9M1668.6 528.5V533.9M1693.5 528.5V533.9M1718.5 528.5V533.9M1743.4 528.5V533.9M1768.4 528.5V533.9M1793.3 528.5V533.9M1818.2 528.5V533.9M1843.2 528.5V533.9M1868.1 528.5V533.9M1893.1 528.5V533.9M1918 528.5V533.9M1942.9 528.5V533.9M1967.9 528.5V533.9M1045.1 528.5V537.4M1169.8 528.5V537.4M1294.5 528.5V537.4M1419.2 528.5V537.4M1543.9 528.5V537.4M1668.6 528.5V537.4M1793.3 528.5V537.4M1918 528.5V537.4" stroke="#000" stroke-width="1.4" fill="none"/>
<text transform="translate(971.2 509.4) scale(1.115 1)" font-size="17.2" text-anchor="end">0</text>
<text transform="translate(968.8 454.1) scale(1.115 1)" font-size="17.2" text-anchor="end">5000</text>
<text transform="translate(974.4 398.7) scale(1.115 1)" font-size="17.2" text-anchor="end">10000</text>
<text transform="translate(974.4 343.4) scale(1.115 1)" font-size="17.2" text-anchor="end">15000</text>
<text transform="translate(968.8 288.1) scale(1.115 1)" font-size="17.2" text-anchor="end">20000</text>
<text transform="translate(968.8 232.8) scale(1.115 1)" font-size="17.2" text-anchor="end">25000</text>
<text transform="translate(968.8 177.4) scale(1.115 1)" font-size="17.2" text-anchor="end">30000</text>
<text transform="translate(968.8 122.1) scale(1.115 1)" font-size="17.2" text-anchor="end">35000</text>
<text transform="translate(968.8 66.8) scale(1.115 1)" font-size="17.2" text-anchor="end">40000</text>
<text transform="translate(1046.2 562) scale(1.075 1)" font-size="17.6" text-anchor="middle">10.25</text>
<text transform="translate(1170.9 562) scale(1.075 1)" font-size="17.6" text-anchor="middle">10.50</text>
<text transform="translate(1295.6 562) scale(1.075 1)" font-size="17.6" text-anchor="middle">10.75</text>
<text transform="translate(1420.3 562) scale(1.075 1)" font-size="17.6" text-anchor="middle">11.00</text>
<text transform="translate(1545 562) scale(1.075 1)" font-size="17.6" text-anchor="middle">11.25</text>
<text transform="translate(1669.7 562) scale(1.075 1)" font-size="17.6" text-anchor="middle">11.50</text>
<text transform="translate(1794.4 562) scale(1.075 1)" font-size="17.6" text-anchor="middle">11.75</text>
<text x="1895.4" y="562" font-size="17.6" textLength="83" lengthAdjust="spacingAndGlyphs">12.00 min</text>
<text x="1018.1" y="55.2" font-size="25.8" font-weight="bold" textLength="246" lengthAdjust="spacingAndGlyphs">Analytical standard</text>
<text x="894.4" y="26.8" font-size="37" font-weight="bold">b</text>
<text x="1043.5" y="464.5" font-size="22.5" fill="#e86c00" textLength="338" lengthAdjust="spacingAndGlyphs">437.0000&gt;189.2000(+) CE: -29.0</text>
<line x1="1347.9" y1="459.9" x2="1421.8" y2="459.9" stroke="#000" stroke-width="1.45" stroke-dasharray="4.3 2.5"/>
<line x1="1431.5" y1="93.9" x2="1501.2" y2="93.9" stroke="#000" stroke-width="1.45" stroke-dasharray="4.3 2.5"/>
<text x="1507.5" y="99.2" font-size="22.3" textLength="225" lengthAdjust="spacingAndGlyphs">Oleanonic Acid TIC(+)</text>
<line x1="1431.5" y1="332.3" x2="1501.2" y2="332.3" stroke="#000" stroke-width="1.45" stroke-dasharray="4.3 2.5"/>
<text x="1507.5" y="335.6" font-size="22.5" fill="#a238cb" textLength="338" lengthAdjust="spacingAndGlyphs">455.0000&gt;409.1500(+) CE: -20.0</text>
<line x1="1431.5" y1="421.2" x2="1501.2" y2="421.2" stroke="#000" stroke-width="1.45" stroke-dasharray="4.3 2.5"/>
<text x="1507.5" y="425.1" font-size="22.5" fill="#008a9b" textLength="338" lengthAdjust="spacingAndGlyphs">455.0000&gt;203.2000(+) CE: -28.0</text>
<path d="M138.9 604.3V1097.3M241.9 604.3V1097.3M344.9 604.3V1097.3M447.8 604.3V1097.3M550.8 604.3V1097.3M653.8 604.3V1097.3M756.7 604.3V1097.3M859.7 604.3V1097.3M69.8 1075.3H892.3M69.8 1031.9H892.3M69.8 988.5H892.3M69.8 945.1H892.3M69.8 901.7H892.3M69.8 858.3H892.3M69.8 814.9H892.3M69.8 771.5H892.3M69.8 728.1H892.3M69.8 684.7H892.3" stroke="#ececed" stroke-width="1.6" fill="none"/>
<clipPath id="cc"><rect x="69.8" y="604.3" width="822.5" height="493"/></clipPath>
<path d="M70 1012.2L71 1009L71.5 1007.9L72.5 1006.4L73 1006.1L73.5 1006.1L74.5 1007L75.5 1008.7L76 1010.2L78 1021L78.5 1022.7L80 1026.5L80.5 1027.3L81 1027.7L81.5 1027.5L82 1026.8L84 1021.8L86.5 1013L87 1012.3L87.5 1012.3L88.5 1014.3L90 1018.9L92.5 1027.7L93 1028.6L93.5 1028.8L95 1028.1L96 1027.1L98 1022.5L98.5 1021.8L99 1021.6L100 1022L101.5 1023L103.5 1024.9L104 1024.9L104.5 1024.6L106.5 1022.3L110 1020.5L111 1019L113 1015L113.5 1014.5L114 1014.4L114.5 1014.9L115.5 1017.1L119.5 1028.3L120 1028.9L121 1029.5L122 1029.8L123 1029.9L124 1029.1L126.5 1025.6L132 1019L133 1017.5L136 1011.6L137.5 1009.7L138 1009.4L138.5 1009.4L139 1009.7L140 1010.8L141.5 1012.9L143 1016.5L144 1018.1L145 1018.2L146 1017.8L148.5 1015.8L149 1015.3L149.5 1014.2L152 1005.4L154 999.9L155 997.6L155.5 996.9L156 996.6L156.5 996.7L157.5 997.5L160 1001.2L161 1003.7L164 1013.9L165 1015.8L165.5 1016.1L166 1015.8L167 1014.1L168.5 1010.2L172 990.4L174 984.8L174.5 984.1L175 983.9L176 984.1L177.5 985.2L179 987L179.5 988.1L182.5 999.4L184.5 1009.8L185.5 1013.3L186 1013.8L187 1013.5L189 1012L190.5 1010.1L191.5 1009.4L192.5 1009.7L193.5 1010.6L195.5 1013.2L199 1022.7L200 1024.6L203.5 1028.1L208.5 1036.3L212 1040.1L214 1041.4L215.5 1041.5L219 1039.7L220.5 1039.4L221.5 1039.6L224.5 1040.9L225.5 1041L226 1040.9L227 1040.2L230 1036.8L231 1036.1L231.5 1036L232.5 1036.3L233.5 1037.1L235.5 1038.9L238 1041.8L238.5 1042.1L239 1042.1L239.5 1041.8L241 1039.6L243 1035.5L246.5 1023.4L247.5 1020.7L250.5 1014.5L251.5 1013.5L252 1013.3L253 1013.5L254 1014L256.5 1016L258 1018.1L261.5 1024.2L263 1025.9L264.5 1026.9L269 1029L274.5 1032.8L276 1033.4L281 1034.3L283 1035.4L287 1039.2L291 1045.1L293 1047.4L296.5 1050.4L299.5 1051.7L301.5 1052.1L302.5 1051.9L304 1050.4L307 1046.2L311 1042.4L313.5 1040.5L314.5 1040.1L315.5 1039.9L317 1040.4L319 1041.7L322.5 1045.1L324.5 1045.8L326.5 1046L327.5 1045.9L329 1045.3L332 1043.5L333 1043.1L334 1043L335 1043.5L337.5 1045.9L340 1047.9L341 1048.5L341.5 1048.6L342.5 1048.4L345.5 1046.3L346.5 1046L348 1046.3L351.5 1047.7L353 1047.9L354.5 1047.1L356.5 1045L357.5 1043.2L358.5 1040.3L361.5 1029.7L365 1015L369 996.8L371 986.1L371.5 984.2L372 983.4L372.5 983.4L373.5 984.3L374.5 985.8L375.5 990.3L377 999.4L380 1011.2L381.5 1015.8L385 1024.3L387 1029.9L390 1039.2L393 1050.5L394.5 1054.4L395 1055L396.5 1056L398 1056.3L399 1055.9L402 1053.6L403 1053.3L403.5 1053.3L404.5 1053.7L407.5 1056L408.5 1056.5L412 1056.5L413.5 1056.2L414 1055.8L418.5 1049.9L419.5 1048.2L421 1044.7L422.5 1039.3L424 1031.4L425 1024.4L426.5 1010.7L427.5 999.2L429.5 969.7L432 920.3L438 768.5L440 724.4L441.5 699.7L442.5 688.4L443.5 681.6L444 680L444.5 679.7L445 680.9L446 687.7L447 700L448 717.1L449.5 749.5L453.5 851.4L455.5 897.3L458 942.7L460.5 974.7L462 988.9L464 1003.8L466 1015.6L468.5 1027.7L471 1037.3L473.5 1044.6L476 1049.8L477.5 1051.9L479 1053.5L480.5 1054.7L483 1056.1L485 1057.8L486 1058.3L487.5 1058.1L491 1056L494 1054.6L495.5 1054.2L497.5 1054.3L502 1055.4L507 1055.8L508.5 1056.9L513 1061.9L514 1062.6L514.5 1062.7L516 1062.5L517.5 1062L521 1060.6L524.5 1058.7L526.5 1058.2L528.5 1058.6L534 1061.1L535 1061.2L535.5 1061.1L540.5 1057.7L542 1057.1L543 1057.4L545 1059L547.5 1060.6L549 1061L550 1060.2L553 1055.1L555 1051.2L557.5 1045.5L559.5 1040.2L561.5 1033.8L566.5 1013.5L567 1012.3L567.5 1011.8L568.5 1011.1L569.5 1010.9L570 1011.2L570.5 1012L573 1017.5L575.5 1024.5L580 1035.8L583.5 1046.7L585 1050.2L587 1053.8L588 1054.5L590.5 1055.4L592 1055.4L593 1055.1L594.5 1054L596 1052.6L597 1050.9L602.5 1038.7L603 1037.9L604.5 1036.5L605.5 1035.9L606 1035.8L606.5 1036L607.5 1037.1L613 1045.2L618.5 1051.8L622.5 1057.9L625.5 1061.4L626.5 1061.9L627 1061.8L632 1058.6L633 1058.2L634 1058.3L635.5 1058.9L641 1061.5L646 1064.7L648.5 1065.3L650 1065.4L651 1064.4L653.5 1059.2L657 1049.8L659.5 1046.2L660.5 1045.3L661.5 1044.9L662 1045L663 1045.7L665 1047.9L668.5 1055.1L671 1058.4L672.5 1059.6L675.5 1061.1L679.5 1064.7L682 1066.1L683.5 1066.6L684.5 1066.4L685.5 1066L692 1061.6L693 1061.1L697.5 1060.5L702 1060.6L704.5 1060.8L705.5 1061.2L708.5 1064L711.5 1066.5L713 1067.5L715 1068.3L723.5 1070.7L726 1070.6L730 1069.6L732 1069.3L733.5 1069.5L736.5 1070.4L741.5 1070.7L743 1070.1L746 1068L749.5 1066L751 1065.5L752 1065.5L756 1066.5L759 1067.8L760.5 1068.2L762.5 1068.1L767 1067.3L769 1067.1L771 1067.4L775.5 1068.6L782.5 1069.4L784.5 1070.1L792 1073.6L793.5 1074L794.5 1074.1L799 1073.6L802 1072.7L805 1071.1L809.5 1067.3L812 1066.2L814 1065.6L815.5 1065.5L817 1065.6L821.5 1066.5L830.5 1070.2L833 1070.8L834 1070.6L835 1070.1L840.5 1066.2L841.5 1065.8L842.5 1065.7L844 1066L846 1066.9L852 1072.2L854 1073.4L857.5 1073.7L859.5 1073.7L864 1071.6L867.5 1070.5L869.5 1070.1L871.5 1070.1L875.5 1070.5L877 1070.8L881.5 1072.3L886 1074.2L889 1075.1L891 1075.2L892.5 1075" fill="none" stroke="#000" stroke-width="2.2" stroke-linejoin="round" stroke-linecap="round" clip-path="url(#cc)"/>
<path d="M70 1058.8L71 1057.7L72 1057L73.5 1056.6L74.5 1056.8L75.5 1057.7L77.5 1060.2L79.5 1062.3L80.5 1063.1L81 1063.2L81.5 1063.1L82.5 1062.3L85 1059.1L87 1055.9L87.5 1055.5L88 1055.5L89.5 1055.7L97.5 1058.1L98.5 1058.6L101 1060.5L102 1061L106 1061.6L111.5 1061.5L112.5 1061.1L115.5 1059.1L116.5 1058.8L122.5 1058.8L127.5 1058.2L133.5 1058.8L134.5 1058.2L136.5 1056.2L137.5 1055.7L139.5 1055.9L142 1056.5L143 1056.9L145.5 1058.5L146.5 1058.8L147 1058.7L148 1058.1L149.5 1056.4L152 1053L155 1048.3L157.5 1045L159 1043.6L160 1043.3L160.5 1043.5L161.5 1044.7L163.5 1048.1L166 1053.3L166.5 1054L167 1054.3L167.5 1054.2L168 1053.8L170 1050.8L171 1049.9L174 1049.4L176.5 1049.5L178.5 1050.3L180.5 1051.5L183.5 1056.1L184.5 1057.2L185 1057.6L187 1057.6L190 1057.1L193 1055.8L194.5 1055.5L195.5 1056L198.5 1059.7L201 1062.1L202 1062.8L203 1063.2L203.5 1063.2L204.5 1062.7L207 1060.4L209 1059L210 1058.5L211 1058.2L212 1058.7L215 1061.9L218 1062.9L221 1063.2L223 1062.8L230 1059.1L231.5 1058.8L233 1059.2L236.5 1061L240 1061.9L242.5 1062.1L244 1061.3L247 1058.9L248.5 1058.2L249 1058.3L250 1058.8L253.5 1062.3L254.5 1062.8L256 1063.1L262.5 1064.1L266 1064.3L272 1063.8L276 1063.7L279 1062.3L280.5 1062.1L282.5 1062.6L289.5 1065.2L290.5 1065.7L293 1067.7L294.5 1068.2L300 1068.2L304.5 1067.4L307.5 1066.6L314.5 1064.2L316.5 1063.8L318 1064.1L322 1066L325.5 1066.9L327.5 1067.1L329 1066.9L332 1065.7L333 1065.5L339.5 1065.4L344 1064.5L346 1064.4L347.5 1064.8L352 1067.1L355.5 1068L357.5 1068.2L358.5 1068.1L359.5 1067.4L362 1065L363 1063.9L365.5 1060L366.5 1058.9L368.5 1057.3L370 1056.8L371 1057.3L372.5 1058.6L374.5 1060.8L375.5 1061.6L377 1062.2L381 1063.4L383 1064.2L388 1066.7L391 1068.6L392.5 1069.2L394 1069.3L398.5 1068.2L413 1068.1L418.5 1066.9L420.5 1065.9L422 1064.6L423.5 1062.6L424.5 1060.7L426.5 1055L428.5 1046.1L430 1036.9L432 1021.3L437.5 966.9L439 953.8L440 946.7L441 941.4L442 938L442.5 937.1L443 936.8L443.5 937L444.5 939.1L445.5 943.3L446.5 949.4L448 961.3L452 999.4L454 1016.6L456.5 1033.4L457.5 1038.5L459 1044.7L460.5 1049.4L462 1052.9L464 1056.5L466.5 1059.7L469 1062.2L471.5 1064.1L475 1065.7L479 1066.8L481 1069.1L484 1069.7L487 1069.9L491.5 1068.8L494 1068.9L498 1069.4L502.5 1070.9L509.5 1071L514.5 1071.9L516.5 1071.6L524 1069.2L526 1068.8L528.5 1068.9L532 1069.3L536.5 1070.4L538 1070.1L540.5 1068.7L542 1068.2L543.5 1068.5L547 1069.8L548.5 1069.9L551 1069.6L553 1069.1L554.5 1068.4L556 1067.4L558 1065.7L559.5 1063.5L564 1055.3L565 1054L565.5 1053.8L566.5 1054.3L568.5 1057L570.5 1061.4L571 1062.1L572.5 1063.1L575.5 1064.4L581 1067.1L585 1070.3L586.5 1070.8L591.5 1070.3L600 1065.8L603.5 1064.6L605.5 1064.3L607.5 1064.7L611 1066L618.5 1070.9L620 1071.7L621 1071.9L624 1072.1L627 1072.1L629 1071.6L632.5 1070.3L636 1068.1L637.5 1067.7L639.5 1067.8L642.5 1068.3L646 1070.4L647.5 1071L651 1071.5L653.5 1071.5L655 1070.6L657.5 1068L658.5 1067.2L661 1066.3L662.5 1066L663 1066.1L664 1066.7L669.5 1072.5L670.5 1073.2L671 1073.2L676.5 1072.1L685 1073.1L688.5 1073.2L694 1072.6L700 1071.6L706.5 1071L708 1071.4L711.5 1073.7L712.5 1074.2L719.5 1074.3L726 1073.3L732 1072.7L734 1072.7L738.5 1073.2L740.5 1073.2L742 1072.8L746.5 1071L749.5 1070.3L751 1070.1L752.5 1070.3L756.5 1071.5L763 1072.6L769.5 1073.2L782 1073.3L787.5 1073.9L793.5 1075.1L802.5 1075.4L805 1075.1L809 1074.3L813 1073.1L815 1072.7L819 1072.9L823 1073.3L828 1074.2L830.5 1074.3L832 1073.9L836.5 1072.1L840.5 1071.1L843 1070.8L845.5 1071.1L849 1072.2L853 1074.5L854.5 1074.9L862 1075.2L870 1074.9L880 1074.9L886 1075.4L892.5 1075.4" fill="none" stroke="#a238cb" stroke-width="2.2" stroke-linejoin="round" stroke-linecap="round" clip-path="url(#cc)"/>
<path d="M70 1057.7L71.5 1050.1L72 1048.9L72.5 1048.8L75 1048.8L75.5 1049.2L79 1056.9L80 1058.5L80.5 1058.8L81 1058.7L82 1058.2L84 1056.5L86.5 1053.5L87 1053.3L87.5 1053.3L88.5 1054.1L90 1056L93 1059.2L94 1059.8L94.5 1059.9L95.5 1059.1L97.5 1055.8L100 1052.6L101 1051.8L101.5 1051.6L103 1051.9L104.5 1052.6L106 1053.6L108 1055.7L109 1056L110 1054.9L111.5 1052.3L113.5 1049.4L114 1048.9L114.5 1048.8L115.5 1049.4L118 1052.5L121 1057.4L122 1058.2L122.5 1058.2L124 1057.5L127 1055.1L131.5 1050.4L134 1048.9L135 1048.6L136 1048.6L137.5 1048.9L139 1049.5L140 1051.2L142 1056.3L144 1060L145.5 1061.9L146 1062.1L146.5 1062L148 1060.8L149.5 1058.5L152 1049.2L154 1044.6L155 1043.2L155.5 1043L156 1043.2L156.5 1043.8L161.5 1052.6L162 1053.2L163.5 1053.9L165.5 1054.3L166 1054.1L166.5 1053.6L167.5 1051.8L169.5 1047.3L171 1042.8L172 1040.6L173.5 1039.5L175 1039L176.5 1039.8L178.5 1041.9L182 1049.8L184 1052.5L185.5 1054L186 1054.2L187 1054.3L188 1054L191 1052.4L192 1052.1L193 1052.3L194.5 1053.1L203 1059.2L207 1061.3L211 1063.2L212.5 1063.7L213.5 1063.8L214.5 1063.4L218.5 1060.8L220 1060.5L221 1060.9L223 1062.7L224 1063.2L225.5 1063.1L229.5 1061.8L231 1061.6L232.5 1061.8L236.5 1063.1L237.5 1063.2L238.5 1063.1L240.5 1062L243.5 1059.6L245 1057.9L248 1054L251 1050.7L252 1049.8L253 1049.4L254 1049.5L255.5 1050.1L265 1056.4L269.5 1058.9L272 1060.1L274.5 1060.9L276 1060.9L277 1060.3L279 1058.6L280 1058.2L280.5 1058.3L281.5 1058.8L284 1060.8L285 1061.4L286.5 1061.7L292 1062.1L293.5 1062.5L298 1065L300.5 1066.8L302 1067.4L303 1067.4L304.5 1067L308 1065.3L309 1064.4L311.5 1061.3L312.5 1060.3L313.5 1059.8L316 1059.4L317.5 1059.6L318.5 1060.3L321 1062.6L322 1063.2L323 1063.4L328 1063.8L332 1062.8L333.5 1062.7L344 1064.8L346.5 1064.9L349.5 1064.7L353 1064.1L354 1063.5L355.5 1062.2L359 1058.4L364.5 1050.4L366.5 1046.8L367.5 1044.1L370 1035.1L371.5 1027.9L372 1026.7L374 1026.6L374.5 1026.7L375 1027.8L377 1037.3L379 1043.2L381 1047.7L382.5 1049.9L384 1051.7L391.5 1059.4L394.5 1063.8L396 1065.7L397 1066.4L397.5 1066.6L404.5 1066L409.5 1067.1L415.5 1066.7L417 1065.9L420 1062.9L422.5 1061.6L423.5 1060.9L425.5 1058.5L427 1055.6L428 1052.9L430 1045.2L432 1033.9L434 1018.8L439.5 965.3L441.5 948.5L442.5 942.2L443.5 937.7L444.5 935.2L445 934.7L445.5 934.8L446 935.5L446.5 936.7L447.5 940.8L448.5 946.9L450 958.8L454 997L456 1013.9L458.5 1030.1L459.5 1034.9L461 1040.8L463 1046.5L465 1050.6L467.5 1054.6L470.5 1058.5L473 1061L475.5 1063L478 1064.3L481.5 1065.6L484.5 1067.4L486 1067.4L492 1065.1L494 1064.9L495.5 1065.3L497.5 1066.2L500.5 1069L503 1069.8L505.5 1070.1L510.5 1069.9L514 1070.4L520 1070.4L525 1069.4L527.5 1069.5L530.5 1070.1L534 1073.4L534.5 1073.7L535.5 1073.7L536.5 1073.1L539 1070.9L541.5 1068.1L542.5 1067.9L546 1068.2L547.5 1068.1L549 1067.6L551 1066.6L553 1065.1L556.5 1061.6L560 1058.8L562 1056.7L563.5 1054.3L568 1044.8L569 1043.4L569.5 1043.3L570.5 1044L572.5 1047.3L575 1054.4L576.5 1057.4L578 1059.8L579.5 1061.7L582 1064.2L583.5 1065.3L584.5 1065.8L586 1066L590 1065.5L591.5 1065.5L595 1067L597.5 1067.6L599 1067.6L600 1066.9L603 1062.9L606 1060.5L607 1060L608 1059.9L609.5 1060.3L613 1061.8L617 1063.1L619 1063.9L623 1067.5L624 1068.1L626.5 1068.9L629 1069.3L630.5 1069.3L634 1068.8L635 1068.9L641 1072.2L643 1073L648 1073.2L650 1072.6L653 1070.9L656 1067.8L657.5 1066.6L660 1065.4L662 1064.9L664 1065.1L673.5 1067.2L681.5 1070.6L683 1071L686 1071L687 1070.8L695.5 1067.1L697 1066.8L698 1066.9L700 1067.6L703 1069.2L706.5 1071.4L708 1072L714 1073L724.5 1074.1L740 1074.6L742 1074.2L745.5 1073L747 1072.7L756 1073.2L758 1072.8L766.5 1070.2L769 1069.9L772 1070.3L779 1071.8L782.5 1072.8L787 1074.6L788.5 1074.9L791 1074.7L796 1073.8L799.5 1073.5L816.5 1072.1L821.5 1070.7L823 1070.4L824.5 1070.6L828.5 1071.5L833 1072L835.5 1072.1L841.5 1071.9L846.5 1073.8L850 1074.5L852.5 1074.9L863 1074.8L869 1073.4L871.5 1073.2L880 1073.8L886.5 1074.9L892.5 1075.2" fill="none" stroke="#008a9b" stroke-width="2.2" stroke-linejoin="round" stroke-linecap="round" clip-path="url(#cc)"/>
<path d="M69.4 1045.5L71.9 1049.4L73.9 1051.6L76.9 1053.9L80.4 1055.6L81.9 1056L82.9 1055.8L85.9 1052.3L86.9 1051.6L87.4 1051.6L88.4 1053.1L90.4 1057.6L92.9 1060.8L93.9 1061.5L94.4 1061.6L95.4 1061.3L97.4 1060.1L98.4 1059.9L101.9 1060.9L102.9 1061L103.9 1060L106.4 1055.6L108.9 1053.7L110.4 1053.2L111.4 1053.4L112.4 1053.9L114.4 1055.5L114.9 1056.3L116.9 1061.3L118.4 1062.8L119.4 1063.5L120.4 1063.8L123.4 1063L126.9 1063.2L127.9 1062.4L130.4 1059.5L130.9 1059.4L134.4 1059.3L134.9 1059.1L135.9 1058L138.4 1053.7L141.4 1050.2L143.4 1048.7L144.9 1048L146.4 1047.7L147.4 1047.9L148.4 1048.6L150.4 1050.4L152.9 1053.5L156.4 1056.3L158.4 1057.5L161.4 1058.9L162.9 1059.4L164.4 1059.6L164.9 1059.4L165.9 1058.6L167.9 1056.2L170.9 1049.5L171.9 1047.9L173.4 1046.5L174.9 1045.5L175.9 1045.2L176.9 1045.3L179.9 1045.5L180.4 1045.7L181.4 1046.6L184.9 1051L185.9 1051.9L186.9 1052.1L189.9 1050.7L190.9 1050.5L191.4 1050.5L192.4 1051.2L194.9 1053.9L195.9 1054.7L196.9 1055L200.9 1055.3L202.4 1055.6L203.4 1056.7L205.9 1061.3L208.4 1064.6L209.9 1066.2L210.9 1066.6L211.9 1066.4L214.9 1065L220.9 1064.6L229.9 1065.2L232.4 1065.5L236.4 1066.5L237.4 1066.6L238.4 1066.4L240.4 1064.9L243.9 1061.3L247.9 1056.8L251.4 1053.3L252.9 1052.3L253.9 1052.1L255.4 1052.7L259.4 1055.3L263.4 1056.8L264.9 1057.1L272.4 1057.2L273.9 1058.2L277.4 1061.9L279.9 1063.5L281.4 1063.8L285.9 1063.3L287.4 1063.4L288.4 1063.9L291.9 1066.4L294.9 1067.9L296.4 1068.2L298.9 1068L302.4 1067L305.4 1064.8L306.4 1064.4L308.4 1064.6L315.4 1067.2L317.4 1067.7L319.4 1067.4L322.4 1066.5L325.4 1064.6L326.4 1064.3L331.9 1064.4L337.4 1066.3L341.4 1067.3L343.9 1067.7L345.4 1067.5L348.4 1065.8L349.4 1065.5L355.9 1065.4L357.4 1064.3L360.4 1060.6L369.9 1050L371.4 1049.2L373.9 1048.8L374.9 1049.6L377.4 1053.6L378.9 1054.8L382.4 1057.1L383.9 1058.4L387.9 1063L391.4 1067.6L394.4 1070.1L395.4 1070.4L396.4 1070.3L399.4 1069.1L400.9 1068.8L405.9 1069.6L409.9 1069.8L415.4 1069.8L418.9 1069.4L420.9 1068.7L422.4 1067.8L423.9 1066.5L425.4 1064.4L426.9 1061.4L427.9 1058.7L429.9 1051.4L431.4 1044L433.4 1031.5L438.9 988L440.9 973.8L441.9 968.2L442.9 963.9L443.9 961.1L444.4 960.2L444.9 959.8L445.4 959.8L445.9 960.4L446.4 961.3L447.4 964.6L448.4 969.5L450.4 983L454.4 1015.1L456.4 1029.2L458.9 1042.6L459.9 1046.7L461.4 1051.5L462.9 1055.2L464.4 1058L466.4 1060.8L468.9 1063.5L470.9 1065.1L472.9 1066.4L475.4 1067.6L477.9 1068.5L479.9 1069.9L483.4 1071.6L484.9 1071.8L486.9 1071.6L493.4 1070.1L495.9 1069.1L498.9 1066.6L499.9 1066L502.4 1065.2L504.4 1064.9L505.4 1065.1L506.9 1065.9L509.4 1067.5L512.4 1070.1L513.9 1070.9L515.9 1070.9L530.4 1069.4L535.4 1068.3L536.9 1068.2L538.4 1068.8L544.9 1072.6L546.4 1073L547.4 1072.9L551.4 1071.4L556.4 1068.3L560.9 1067L562.4 1066.4L563.4 1065.4L565.9 1061.8L569.4 1057.4L570.4 1056.6L571.9 1055.9L573.9 1055.5L575.9 1056.1L578.4 1057.7L585.4 1066.2L586.9 1067.7L589.9 1069.5L591.9 1070.1L592.4 1070L593.4 1069.2L595.9 1065.9L598.4 1061.9L599.4 1060.7L601.9 1059.6L603.9 1059.4L604.9 1060L607.4 1063L609.4 1064.9L610.9 1066.1L611.9 1066.5L616.9 1067.2L621.4 1069.1L626.4 1070.4L628.4 1070.3L630.9 1069.5L632.4 1069.4L633.4 1069.7L636.4 1071.3L637.4 1071.5L642.4 1071L648.9 1071L649.9 1070.8L651.4 1070.2L653.9 1068.8L657.9 1065.3L660.4 1064.4L662.4 1064.1L664.4 1064.5L667.4 1065.9L672.9 1068.1L673.9 1068.8L676.4 1071.5L677.4 1072.1L681.4 1072.7L682.9 1072.5L688.4 1070.6L690.4 1070.1L692.4 1070.2L696.9 1071L702.9 1071L704.4 1070.9L708.9 1070.1L711.4 1070.5L720.9 1073L726.4 1073.7L728.9 1073.7L732.9 1072.8L734.4 1072.7L748.9 1073.8L750.9 1073.5L754.9 1072.5L756.9 1072.3L758.9 1072.6L766.4 1074.5L768.9 1074.8L771.9 1074.8L776.9 1074.5L782.4 1073.6L784.4 1073.4L787.4 1073.7L795.9 1075.3L798.4 1075.4L803.9 1075.1L805.4 1074.5L807.9 1073L810.9 1071.8L812.9 1071.2L814.4 1071L816.4 1071.2L819.9 1072.1L824.9 1074L830.9 1074.9L833.4 1074.8L835.9 1074.4L838.4 1073.9L842.4 1072.6L844.4 1072.3L850.4 1072.7L854.4 1073.6L856.4 1073.8L863.9 1073.7L869.4 1072.8L871.9 1072.7L877.9 1073.5L883.9 1074.8L892.4 1075.4" fill="none" stroke="#e86c00" stroke-width="2.4" stroke-linejoin="round" stroke-linecap="round" clip-path="url(#cc)"/>
<path d="M69.8 604.3V1097.3H892.3" stroke="#000" stroke-width="2.0" fill="none" stroke-linejoin="miter"/>
<path d="M69.8 1075.3H65.3M69.8 1066.6H65.3M69.8 1057.9H65.3M69.8 1049.3H65.3M69.8 1040.6H65.3M69.8 1031.9H65.3M69.8 1023.2H65.3M69.8 1014.5H65.3M69.8 1005.9H65.3M69.8 997.2H65.3M69.8 988.5H65.3M69.8 979.8H65.3M69.8 971.1H65.3M69.8 962.5H65.3M69.8 953.8H65.3M69.8 945.1H65.3M69.8 936.4H65.3M69.8 927.7H65.3M69.8 919.1H65.3M69.8 910.4H65.3M69.8 901.7H65.3M69.8 893H65.3M69.8 884.3H65.3M69.8 875.7H65.3M69.8 867H65.3M69.8 858.3H65.3M69.8 849.6H65.3M69.8 840.9H65.3M69.8 832.3H65.3M69.8 823.6H65.3M69.8 814.9H65.3M69.8 806.2H65.3M69.8 797.5H65.3M69.8 788.9H65.3M69.8 780.2H65.3M69.8 771.5H65.3M69.8 762.8H65.3M69.8 754.1H65.3M69.8 745.5H65.3M69.8 736.8H65.3M69.8 728.1H65.3M69.8 719.4H65.3M69.8 710.7H65.3M69.8 702.1H65.3M69.8 693.4H65.3M69.8 684.7H65.3M69.8 676H65.3M69.8 667.3H65.3M69.8 658.7H65.3M69.8 650H65.3M69.8 641.3H65.3M69.8 632.6H65.3M69.8 623.9H65.3M69.8 615.3H65.3M69.8 606.6H65.3M69.8 1075.3H61.8M69.8 1031.9H61.8M69.8 988.5H61.8M69.8 945.1H61.8M69.8 901.7H61.8M69.8 858.3H61.8M69.8 814.9H61.8M69.8 771.5H61.8M69.8 728.1H61.8M69.8 684.7H61.8M69.8 641.3H61.8M77.1 1097.3V1102.8M97.7 1097.3V1102.8M118.3 1097.3V1102.8M138.9 1097.3V1102.8M159.5 1097.3V1102.8M180.1 1097.3V1102.8M200.7 1097.3V1102.8M221.3 1097.3V1102.8M241.9 1097.3V1102.8M262.5 1097.3V1102.8M283.1 1097.3V1102.8M303.7 1097.3V1102.8M324.3 1097.3V1102.8M344.9 1097.3V1102.8M365.4 1097.3V1102.8M386 1097.3V1102.8M406.6 1097.3V1102.8M427.2 1097.3V1102.8M447.8 1097.3V1102.8M468.4 1097.3V1102.8M489 1097.3V1102.8M509.6 1097.3V1102.8M530.2 1097.3V1102.8M550.8 1097.3V1102.8M571.4 1097.3V1102.8M592 1097.3V1102.8M612.6 1097.3V1102.8M633.2 1097.3V1102.8M653.8 1097.3V1102.8M674.4 1097.3V1102.8M695 1097.3V1102.8M715.6 1097.3V1102.8M736.2 1097.3V1102.8M756.7 1097.3V1102.8M777.3 1097.3V1102.8M797.9 1097.3V1102.8M818.5 1097.3V1102.8M839.1 1097.3V1102.8M859.7 1097.3V1102.8M880.3 1097.3V1102.8M138.9 1097.3V1106.3M241.9 1097.3V1106.3M344.9 1097.3V1106.3M447.8 1097.3V1106.3M550.8 1097.3V1106.3M653.8 1097.3V1106.3M756.7 1097.3V1106.3M859.7 1097.3V1106.3" stroke="#000" stroke-width="1.7" fill="none"/>
<text transform="translate(58.8 1079.3) scale(1.127 1)" font-size="17.0" text-anchor="end">0</text>
<text transform="translate(60.8 1035.9) scale(1.127 1)" font-size="17.0" text-anchor="end">10000</text>
<text transform="translate(56.8 992.5) scale(1.127 1)" font-size="17.0" text-anchor="end">20000</text>
<text transform="translate(56.8 949.1) scale(1.127 1)" font-size="17.0" text-anchor="end">30000</text>
<text transform="translate(56.8 905.7) scale(1.127 1)" font-size="17.0" text-anchor="end">40000</text>
<text transform="translate(56.8 862.3) scale(1.127 1)" font-size="17.0" text-anchor="end">50000</text>
<text transform="translate(56.8 818.9) scale(1.127 1)" font-size="17.0" text-anchor="end">60000</text>
<text transform="translate(56.8 775.5) scale(1.127 1)" font-size="17.0" text-anchor="end">70000</text>
<text transform="translate(56.8 732.1) scale(1.127 1)" font-size="17.0" text-anchor="end">80000</text>
<text transform="translate(56.8 688.7) scale(1.127 1)" font-size="17.0" text-anchor="end">90000</text>
<text transform="translate(144.5 1126.8) scale(1.075 1)" font-size="17.6" text-anchor="middle">10.00</text>
<text transform="translate(247.5 1126.8) scale(1.075 1)" font-size="17.6" text-anchor="middle">10.25</text>
<text transform="translate(350.5 1126.8) scale(1.075 1)" font-size="17.6" text-anchor="middle">10.50</text>
<text transform="translate(453.4 1126.8) scale(1.075 1)" font-size="17.6" text-anchor="middle">10.75</text>
<text transform="translate(556.4 1126.8) scale(1.075 1)" font-size="17.6" text-anchor="middle">11.00</text>
<text transform="translate(659.4 1126.8) scale(1.075 1)" font-size="17.6" text-anchor="middle">11.25</text>
<text transform="translate(762.3 1126.8) scale(1.075 1)" font-size="17.6" text-anchor="middle">11.50</text>
<text x="865.3" y="1126.6" font-size="18.4">min</text>
<text x="106.3" y="630" font-size="26.2" font-weight="bold" textLength="107.5" lengthAdjust="spacingAndGlyphs">AES 062</text>
<text x="0.3" y="602.4" font-size="37" font-weight="bold">c</text>
<line x1="450.3" y1="715.2" x2="514" y2="715.2" stroke="#000" stroke-width="1.45" stroke-dasharray="4.3 2.5"/>
<text x="522.8" y="720.5" font-size="22.3" textLength="269.5" lengthAdjust="spacingAndGlyphs">Dammarenolic Acid TIC(+)</text>
<line x1="445.4" y1="933.7" x2="511.5" y2="888.1" stroke="#000" stroke-width="1.45" stroke-dasharray="4.3 2.5"/>
<text x="522" y="891.3" font-size="22.5" fill="#008a9b" textLength="338" lengthAdjust="spacingAndGlyphs">441.4000&gt;107.2000(+) CE: -39.0</text>
<line x1="450.3" y1="944.6" x2="514" y2="944.6" stroke="#000" stroke-width="1.45" stroke-dasharray="4.3 2.5"/>
<text x="519.5" y="950.1" font-size="22.5" fill="#a238cb" textLength="338" lengthAdjust="spacingAndGlyphs">441.4000&gt;109.2000(+) CE: -29.0</text>
<text x="106" y="963.5" font-size="22.5" fill="#e86c00" textLength="338" lengthAdjust="spacingAndGlyphs">441.4000&gt;121.1500(+) CE: -35.0</text>
<line x1="409.5" y1="960" x2="443.4" y2="960" stroke="#000" stroke-width="1.45" stroke-dasharray="4.3 2.5"/>
<path d="M1046.7 604.6V1096.9M1171.2 604.6V1096.9M1295.8 604.6V1096.9M1420.3 604.6V1096.9M1544.9 604.6V1096.9M1669.5 604.6V1096.9M1794 604.6V1096.9M1918.6 604.6V1096.9M982 1073.3H1977.5M982 1020.2H1977.5M982 967H1977.5M982 913.9H1977.5M982 860.7H1977.5M982 807.6H1977.5M982 754.5H1977.5M982 701.3H1977.5M982 648.2H1977.5" stroke="#ececed" stroke-width="1.6" fill="none"/>
<clipPath id="cd"><rect x="982" y="604.6" width="995.5" height="492.3"/></clipPath>
<path d="M981.9 865L983.4 831.9L983.9 826.4L984.4 826.4L985.9 827L986.4 827.6L986.9 829.9L988.4 840.7L988.9 841.9L989.9 842.9L990.9 843.5L991.9 843.5L994.4 842.7L994.9 842.7L995.4 843.3L996.4 846.3L997.9 852L999.9 857.8L1000.9 860.1L1001.4 860.6L1003.4 860.5L1005.4 859.6L1006.4 857.5L1008.4 850.9L1009.4 848.7L1010.9 846.9L1011.9 846.1L1012.9 845.8L1013.4 846.5L1014.4 850.8L1016.4 862.6L1021.4 903.2L1022.4 908.3L1023.4 911.6L1024.4 913.7L1024.9 914L1025.4 913.7L1025.9 912.9L1028.9 904.2L1029.9 902.6L1032.4 899.5L1033.4 897.8L1034.4 895L1036.4 887.2L1038.4 881.3L1039.4 879.2L1039.9 878.8L1040.4 879.4L1041.4 885.5L1042.9 898.8L1045.4 929.2L1047.9 954.7L1048.9 961.1L1049.9 964.8L1050.9 967.7L1051.4 968.6L1051.9 969L1052.4 968.8L1053.4 966.8L1056.4 955.3L1061.4 942L1062.4 938.8L1065.4 927.2L1067.9 921.1L1068.9 919.8L1069.4 919.7L1069.9 920L1072.9 924.2L1074.9 926.2L1075.9 926.8L1076.4 926.9L1076.9 926.7L1077.9 925.2L1080.4 919.6L1082.4 917.3L1083.9 916.3L1084.4 916.3L1084.9 917.1L1085.4 918.5L1087.9 930L1091.4 952.5L1092.4 955.8L1093.9 959.4L1094.9 960.8L1095.4 960.9L1095.9 960.1L1096.9 955L1099.4 936L1101.9 914.8L1103.4 909.1L1106.4 902.1L1107.4 899.4L1110.9 884.4L1111.9 881L1112.4 879.9L1113.9 877.8L1115.4 876.2L1116.4 875.7L1116.9 875.7L1117.4 876L1117.9 876.9L1118.9 879.7L1123.4 895.3L1123.9 896.6L1124.4 897.3L1124.9 897.2L1125.9 895.7L1128.4 889.1L1129.9 886.4L1130.9 885L1131.4 884.8L1135.9 884.7L1136.4 884L1138.9 875.2L1140.4 872L1140.9 871.3L1141.4 871L1141.9 871.3L1142.4 872.1L1143.4 875L1144.4 879L1144.9 882.4L1148.9 928.2L1150.9 945L1151.4 948.1L1151.9 949.9L1152.4 950.3L1153.4 950.7L1154.9 950.9L1155.9 949.8L1157.4 946.8L1158.4 945.2L1158.9 945L1159.4 945L1160.9 946.3L1162.4 948.4L1163.4 950.7L1165.9 959.8L1168.4 970.9L1168.9 972.1L1169.4 972.4L1170.4 971.7L1172.4 968.6L1174.9 965.2L1175.9 964.4L1176.4 964.5L1176.9 965.2L1177.9 968.3L1179.9 976.2L1182.4 987.3L1183.4 989.3L1184.4 990.6L1185.4 991.5L1186.4 991.9L1186.9 991.6L1187.4 990.7L1189.9 983.6L1191.9 980.4L1192.9 979.4L1193.9 979.4L1196.9 981.7L1197.9 981.9L1198.9 981.3L1201.4 978.8L1203.9 977.4L1205.9 976.8L1206.9 976.8L1207.9 977.2L1209.4 978.3L1211.4 980.2L1212.9 982.4L1213.9 984.5L1215.9 990.4L1217.9 995.5L1218.4 996.5L1218.9 996.9L1220.4 996.3L1222.4 994.6L1224.4 991.5L1225.4 990.4L1225.9 990.2L1226.4 990.4L1226.9 991L1227.9 992.8L1230.4 998.3L1237.9 1020.2L1239.9 1023.9L1240.4 1024.4L1240.9 1024.5L1241.4 1024.2L1242.4 1022.8L1243.9 1019.6L1244.9 1015.8L1248.4 999.1L1249.9 992.9L1251.4 989.4L1252.9 987.2L1254.9 985.2L1255.9 984.5L1256.9 984.2L1257.4 984.2L1257.9 984.6L1258.9 986.1L1260.9 990.2L1264.4 1000.9L1265.4 1003.3L1266.4 1004.2L1267.4 1004.7L1267.9 1004.7L1268.4 1004.5L1269.4 1002.2L1273.9 986.9L1274.9 984.2L1276.4 981L1277.9 978.4L1280.9 973.9L1282.4 972.3L1282.9 972.1L1283.9 972.1L1285.4 972.8L1286.4 973.6L1286.9 974.9L1291.4 996L1292.9 1001.9L1293.9 1004.6L1295.4 1005.9L1300.9 1009.2L1303.4 1012L1304.4 1012.7L1304.9 1012.9L1305.9 1012.5L1306.9 1011.6L1309.4 1008.3L1312.4 1001.2L1314.9 994L1316.4 990.5L1317.4 989.1L1317.9 989L1318.4 989.3L1319.9 991.2L1320.4 992.1L1322.4 997.9L1323.9 1000.4L1324.4 1000.9L1324.9 1001.1L1325.4 1000.9L1325.9 1000.2L1327.9 995.7L1330.9 986.1L1332.4 983.6L1333.4 982.4L1334.4 981.8L1335.4 981.9L1337.4 982.9L1338.9 984.3L1340.4 987.1L1341.9 990.9L1342.9 994.5L1343.9 999.2L1347.4 1018.6L1349.4 1027.3L1350.9 1031.9L1352.9 1035.9L1353.9 1037.2L1354.4 1037.4L1355.4 1037.2L1357.4 1035.2L1358.4 1033.8L1360.9 1028.7L1362.9 1027L1364.4 1026.5L1368.4 1027.8L1368.9 1027.6L1369.4 1027.2L1370.4 1025.7L1374.9 1017.1L1375.9 1015.8L1376.4 1015.6L1376.9 1015.8L1377.9 1016.9L1379.9 1020.2L1382.9 1028.1L1385.4 1033.2L1385.9 1033.7L1386.9 1034.1L1388.4 1034.4L1389.4 1034.4L1390.4 1033.7L1392.4 1031.6L1393.4 1031L1395.4 1030.2L1395.9 1030.2L1396.4 1030.5L1397.4 1031.9L1399.4 1035.5L1401.9 1040.8L1403.9 1044.4L1404.9 1045.7L1405.4 1045.9L1405.9 1045.8L1406.9 1045.1L1408.4 1043L1408.9 1041.8L1409.9 1037L1411.9 1023L1413.9 1001.9L1416.4 966.7L1416.9 955.6L1417.4 928.6L1417.9 912.9L1418.9 892L1421.4 857.8L1425.4 794.4L1431.9 683.1L1432.9 668.4L1433.9 659.1L1435.4 648.7L1435.9 647L1436.4 646.6L1436.9 647.6L1437.9 653.1L1439.4 665.4L1439.9 671.5L1443.4 734L1446.9 775.3L1448.4 795.9L1454.9 906.5L1457.4 940.2L1459.9 966.5L1460.9 972.3L1461.9 975.1L1462.9 977.1L1468.9 986.7L1469.9 988.9L1470.9 992L1473.9 1004.2L1477.9 1028.8L1479.9 1036.6L1480.9 1039.2L1481.4 1039.7L1481.9 1039.8L1482.9 1039.4L1485.9 1037.4L1488.4 1036.2L1489.9 1035.6L1491.4 1035.5L1492.9 1036.3L1496.9 1040.1L1498.4 1040.7L1498.9 1040.5L1499.9 1039.4L1502.9 1034.1L1503.9 1032.7L1507.4 1030.2L1508.4 1029.8L1509.4 1029.7L1509.9 1030L1510.9 1031.5L1517.4 1047.8L1518.4 1049.9L1519.4 1051.1L1519.9 1051.3L1520.4 1051.2L1521.4 1049.7L1525.9 1038.6L1526.9 1037L1527.4 1037L1527.9 1037.5L1528.9 1039.6L1531.4 1046.1L1533.9 1053.5L1534.9 1055.5L1535.4 1056.1L1536.4 1056.2L1538.9 1056L1543.4 1054.8L1549.4 1052.6L1552.4 1050.6L1553.4 1050.3L1554.4 1050.6L1555.4 1051.2L1557.9 1053L1560.9 1055.5L1561.9 1055.9L1562.4 1055.9L1563.9 1055.3L1564.9 1054.5L1565.4 1053.8L1566.4 1050.6L1567.9 1044.4L1570.4 1032.8L1571.4 1030.6L1572.4 1028.9L1573.4 1027.9L1573.9 1027.7L1574.4 1028L1575.4 1030L1579.4 1040.3L1580.4 1041.8L1582.9 1044.5L1585.9 1048.4L1589.4 1054.6L1589.9 1055L1591.4 1055.5L1592.4 1055.5L1592.9 1054.9L1593.4 1053.7L1595.4 1047.2L1597.4 1039.5L1598.4 1036.7L1600.4 1034.8L1601.4 1034.2L1602.4 1034.2L1603.4 1035.7L1605.4 1041L1607.9 1049.7L1610.9 1058.5L1611.4 1059.5L1612.4 1060.6L1613.9 1061.5L1614.9 1061.7L1615.4 1061.5L1616.4 1060.4L1621.9 1051.5L1624.4 1049L1625.4 1048.5L1625.9 1048.4L1629.9 1049.2L1632.4 1049L1634.4 1048.4L1635.9 1046.7L1638.4 1042.6L1642.4 1037.7L1645.4 1035.9L1646.9 1035.4L1647.9 1035.3L1653.4 1035.4L1654.9 1036L1657.4 1037.7L1658.4 1038.9L1659.4 1040.6L1662.4 1046.8L1665.4 1054L1667.4 1057.2L1668.4 1058.4L1669.4 1059L1671.9 1059.6L1673.4 1059.6L1674.9 1058.8L1678.4 1056.3L1681.4 1053.5L1682.9 1051.5L1689.4 1040.4L1692.4 1037.3L1693.4 1036.8L1693.9 1036.8L1694.9 1037L1696.9 1037.9L1699.9 1040.3L1703.9 1041.5L1704.9 1042L1705.9 1042.9L1707.4 1044.7L1708.4 1046.3L1713.4 1058.7L1714.4 1060.8L1715.4 1062.1L1716.9 1063.2L1718.4 1063.9L1719.4 1064L1720.9 1063.4L1723.4 1061.4L1726.9 1057.3L1729.4 1054.7L1730.9 1053.5L1732.4 1053.1L1736.4 1052.6L1737.9 1052.3L1739.4 1051.5L1744.9 1047.7L1746.4 1046.9L1752.4 1045.7L1756.9 1044L1760.4 1043.2L1761.4 1043.3L1762.9 1044.3L1764.4 1046L1767.9 1050.5L1771.4 1053.9L1772.9 1055L1774.9 1055.8L1775.9 1056.1L1776.9 1055.9L1777.9 1055.1L1780.9 1051.4L1783.4 1049.4L1785.4 1048.2L1786.9 1048.1L1788.4 1048.5L1792.4 1050.2L1797.9 1051.3L1799.9 1051.9L1802.4 1053.3L1810.4 1058.9L1811.4 1059.2L1812.4 1059.1L1813.9 1058.1L1815.4 1056.6L1816.9 1053.3L1818.9 1047.2L1823.9 1026.9L1824.9 1024.2L1825.4 1023.6L1825.9 1023.6L1826.9 1023.8L1828.4 1024.3L1829.9 1025.2L1830.4 1025.7L1831.4 1028.2L1832.9 1033.3L1835.9 1042.3L1836.9 1044.4L1837.4 1045L1839.4 1046.4L1840.4 1046.8L1841.4 1046.9L1842.4 1046L1844.4 1042.5L1845.4 1041.3L1847.9 1039.1L1848.9 1038.7L1849.4 1038.8L1849.9 1039L1850.9 1040L1852.9 1042.8L1856.4 1051L1858.4 1052.8L1859.4 1053.5L1860.4 1053.8L1861.4 1053.7L1862.4 1052.7L1864.9 1048.5L1868.4 1038.8L1871.4 1032.9L1872.4 1031.6L1874.4 1030.1L1875.9 1029.5L1876.9 1029.5L1877.4 1029.9L1878.4 1031.2L1880.9 1035.7L1884.4 1043.9L1891.4 1058.9L1891.9 1059.4L1892.4 1059.4L1895.9 1057.6L1900.4 1057.7L1903.9 1057L1904.9 1057.1L1905.9 1058.6L1907.9 1063.1L1908.9 1064.5L1910.4 1066.1L1914.4 1069.7L1915.9 1070.6L1916.4 1070.6L1917.4 1070.2L1919.9 1067.7L1921.9 1066.5L1927.4 1063.9L1929.9 1063.3L1936.9 1062.6L1938.4 1062.1L1939.9 1061.3L1942.9 1059.2L1943.9 1058.3L1947.9 1053.6L1951.9 1049.3L1954.9 1047.1L1956.9 1046.1L1961.9 1046L1962.9 1046.3L1964.4 1047.3L1966.4 1049.1L1971.9 1055.4L1972.4 1055.7L1973.4 1056L1977.5 1056.3" fill="none" stroke="#000" stroke-width="2.0" stroke-linejoin="round" stroke-linecap="round" clip-path="url(#cd)"/>
<path d="M981.9 1068.7L982.4 1068.6L983.4 1067.7L984.9 1065.3L989.9 1048.6L990.9 1046.2L991.4 1045.5L992.9 1044.2L994.4 1043.5L995.4 1043.5L998.4 1044.1L1002.4 1042.9L1002.9 1043L1003.9 1043.6L1005.9 1046.3L1006.9 1048.7L1009.4 1057.5L1011.4 1061.8L1012.4 1063.2L1012.9 1063.6L1015.4 1064.7L1017.4 1064.9L1019.4 1064.4L1021.9 1063L1022.9 1062.2L1024.4 1060.4L1030.9 1050.5L1031.4 1050L1032.9 1049.4L1034.4 1049L1035.4 1049L1035.9 1049.2L1036.9 1050.2L1039.9 1054.7L1043.9 1062.4L1046.9 1067.1L1047.9 1068.2L1048.9 1068.7L1052.4 1068.4L1052.9 1068L1053.9 1066.1L1055.4 1062.1L1056.4 1060.3L1058.9 1059.2L1060.9 1058.9L1061.4 1059L1062.4 1059.5L1064.9 1061.6L1067.9 1063.5L1069.9 1064.4L1071.9 1064.2L1076.4 1062.5L1077.9 1062.5L1079.4 1063.6L1081.9 1066.5L1085.9 1070.5L1086.9 1071.1L1087.9 1071.3L1089.4 1070.6L1092.4 1068.1L1095.4 1066.5L1097.4 1065.6L1098.9 1065.3L1105.9 1064.8L1107.9 1064.4L1109.9 1063.6L1110.4 1063.3L1111.4 1061.9L1113.9 1057.3L1115.9 1054L1116.9 1052.9L1117.4 1052.7L1118.4 1053.3L1120.4 1056L1121.4 1058.7L1123.4 1065.5L1125.4 1068.9L1126.4 1070.3L1127.4 1071.1L1129.9 1071.5L1135.4 1071.6L1136.4 1071.2L1139.9 1068.8L1142.9 1067.7L1144.4 1067.5L1145.4 1067.9L1148.4 1070.3L1150.4 1071.2L1152.9 1072.1L1154.4 1072L1155.9 1070.7L1162.4 1062L1164.4 1060.8L1166.4 1060.1L1166.9 1060.1L1167.9 1060.8L1170.9 1064.4L1172.9 1065.7L1174.4 1066.1L1175.4 1066L1176.4 1065.6L1183.4 1061.2L1185.9 1060.3L1187.4 1060.1L1187.9 1060.3L1188.9 1061.5L1190.9 1065L1194.4 1070.2L1195.4 1071.4L1196.4 1072.1L1198.4 1072L1201.9 1071.3L1206.9 1069.6L1213.9 1069L1217.4 1067.8L1218.4 1067.7L1219.4 1068L1221.9 1070L1222.9 1070.4L1228.4 1070.7L1229.9 1070.1L1232.9 1067.8L1238.4 1062.2L1239.9 1060.9L1242.9 1059.7L1245.4 1059.2L1246.9 1059.6L1249.4 1061.2L1250.4 1062.6L1252.4 1066L1253.9 1067.5L1255.4 1068.6L1256.4 1068.9L1256.9 1068.9L1259.9 1067.1L1263.4 1067.1L1264.4 1067.6L1266.4 1069.3L1268.4 1070.4L1269.9 1071.1L1270.9 1071.3L1273.9 1071L1275.9 1070.6L1278.9 1069.7L1280.4 1069.5L1284.9 1070.1L1288.4 1071.2L1289.9 1071.3L1290.9 1071L1293.9 1069L1296.4 1067.9L1297.9 1067.7L1299.4 1068L1301.9 1068.9L1305.9 1071.3L1308.4 1071.8L1310.4 1072L1310.9 1071.7L1311.4 1071.1L1313.4 1068.3L1314.9 1067.4L1315.9 1067.1L1317.4 1067.6L1319.4 1068.9L1322.9 1072.5L1325.9 1073.7L1326.9 1073.8L1328.4 1073.3L1334.9 1069.6L1336.9 1069.1L1338.4 1068.9L1340.4 1069.5L1346.9 1072.5L1349.4 1073.4L1351.9 1074.1L1353.9 1074.1L1357.4 1073.8L1358.4 1073.5L1362.4 1070.8L1366.4 1069.1L1372.9 1068.5L1380.4 1067L1381.9 1066.9L1382.9 1067.2L1383.9 1067.8L1385.9 1069.3L1388.4 1071.5L1390.9 1073.1L1392.4 1073.7L1393.9 1073.7L1397.4 1073.2L1398.9 1072.7L1402.9 1070.5L1406.9 1067.9L1411.9 1066.1L1414.4 1064.8L1415.4 1063.9L1416.9 1061.8L1418.4 1059.4L1420.9 1054.2L1422.9 1051.1L1423.9 1050.2L1424.4 1050.2L1425.4 1050.4L1429.4 1052.6L1430.4 1052.8L1430.9 1052L1431.4 1050.4L1434.9 1036.3L1436.4 1031.5L1437.4 1029.4L1438.4 1028.8L1439.4 1028.6L1439.9 1029L1440.4 1030L1441.4 1032.8L1442.9 1041.4L1444.9 1048.5L1447.4 1055.5L1449.9 1061.6L1451.9 1065.4L1455.4 1070.2L1457.4 1072.2L1458.4 1072.8L1459.4 1073L1462.4 1072.6L1466.9 1071.4L1468.4 1070.5L1471.9 1067.8L1472.9 1067.4L1473.9 1067.2L1475.4 1067.9L1478.4 1070.8L1479.4 1071.5L1483.4 1073L1486.4 1073.5L1499.4 1073.4L1531.9 1072.4L1546.4 1072.2L1547.9 1072.2L1551.4 1073.1L1556.4 1073.3L1646.9 1073.3L1649.4 1073.1L1655.9 1072.2L1657.4 1072.3L1661.4 1073L1666.4 1073.3L1725.9 1073.3L1732.4 1072.4L1734.9 1072.2L1739.4 1073.1L1743.9 1073.3L1793.4 1073.4L1798.4 1072.7L1804.4 1073.1L1812.9 1073.1L1813.9 1073L1815.4 1072.4L1818.4 1070.5L1819.4 1069.4L1822.4 1064.4L1825.4 1061.2L1827.4 1060.3L1829.4 1060L1829.9 1060.1L1830.9 1060.7L1832.9 1062.9L1836.9 1069L1839.4 1071.9L1840.9 1073L1843.4 1073.4L1931.4 1073.4L1935.9 1072.7L1941.4 1072.3L1942.4 1072.4L1944.9 1073.3L1945.9 1073.4L1977.5 1073.4" fill="none" stroke="#e86c00" stroke-width="2.0" stroke-linejoin="round" stroke-linecap="round" clip-path="url(#cd)"/>
<path d="M981.9 1042.9L983.4 1046.7L984.4 1048.6L985.4 1049.9L986.9 1051.2L987.9 1051.5L988.4 1051.4L989.4 1050.6L991.4 1048.4L992.4 1048.1L993.4 1048.6L997.9 1052.7L998.9 1053.2L999.4 1053.2L1000.4 1051.8L1002.4 1047.2L1003.4 1045.5L1004.9 1044.2L1007.9 1042.4L1009.4 1041.2L1013.4 1035.5L1015.9 1033.8L1017.4 1033.5L1017.9 1033.8L1018.9 1034.9L1020.9 1038.5L1023.9 1049.5L1025.9 1054.6L1026.9 1056.3L1027.9 1056.8L1031.9 1057.1L1033.4 1057.4L1037.9 1060.2L1046.4 1064.4L1047.9 1064.8L1048.9 1064.5L1049.9 1063.6L1052.4 1060.6L1053.4 1059.8L1053.9 1059.6L1055.4 1059.8L1058.9 1061L1060.9 1060.8L1062.9 1060L1063.9 1058.1L1065.9 1051.6L1066.9 1049.1L1069.4 1045.4L1070.4 1044.4L1071.4 1044.1L1071.9 1044.3L1072.9 1045.3L1074.9 1048.4L1078.4 1056.5L1079.9 1058.7L1081.9 1060.9L1083.4 1061.9L1086.4 1062.9L1089.9 1063.4L1092.9 1063.6L1093.4 1063.2L1094.4 1061.3L1096.4 1055.2L1099.4 1037.9L1100.9 1032.5L1102.4 1028.5L1102.9 1028L1103.4 1028L1104.9 1028.5L1108.9 1031L1110.9 1032.7L1112.4 1034.4L1120.9 1050.2L1125.4 1061.4L1126.4 1062.8L1127.9 1064.1L1129.4 1065L1130.4 1065.3L1130.9 1065.2L1131.9 1064.5L1132.9 1063L1134.4 1060.2L1135.4 1057.2L1137.9 1047.7L1140.4 1040.7L1140.9 1039.8L1141.4 1039.5L1142.4 1039.7L1143.4 1040.3L1144.4 1041.3L1144.9 1042.3L1149.4 1063L1150.4 1066.7L1150.9 1067.7L1151.4 1067.9L1154.9 1067.8L1155.4 1067L1155.9 1065.7L1157.9 1059.6L1159.9 1057.4L1161.4 1056.7L1161.9 1056.8L1162.4 1057.4L1164.9 1062.6L1166.9 1064.9L1168.9 1066.7L1172.9 1069L1179.9 1072.2L1182.4 1073L1184.4 1072.9L1187.4 1072.1L1190.4 1071.1L1194.4 1069.2L1196.4 1068.4L1203.9 1067.8L1205.4 1066.7L1207.9 1063.7L1210.4 1061.2L1211.4 1060.4L1212.4 1060.1L1212.9 1060.4L1213.4 1061.1L1218.4 1070.1L1220.9 1072.4L1221.9 1073.1L1222.9 1073.4L1227.9 1073.4L1228.9 1073.2L1229.9 1072.7L1232.4 1070.6L1235.4 1067.4L1236.4 1066.9L1240.4 1067.1L1242.9 1068L1243.9 1068.1L1244.9 1067.5L1246.4 1065.8L1247.4 1064.9L1248.9 1064.3L1249.9 1064.1L1250.9 1064.7L1253.4 1067.7L1255.4 1069.4L1256.4 1070L1257.4 1070.1L1259.9 1069.4L1261.4 1069.4L1262.9 1069.9L1268.9 1073.2L1269.9 1073.4L1274.4 1073.3L1274.9 1073.1L1275.9 1071.9L1277.9 1068.5L1280.4 1060.7L1282.9 1054.8L1283.4 1054L1284.9 1052.4L1285.9 1051.6L1286.9 1051.4L1287.9 1051.9L1289.4 1053.5L1291.9 1055.6L1292.9 1056.1L1297.9 1056.2L1298.4 1056.5L1299.4 1057.4L1301.4 1060L1303.9 1063.7L1305.9 1065.3L1307.4 1066.1L1309.4 1066L1315.4 1064.9L1316.9 1065.4L1322.4 1068.4L1323.4 1068.8L1324.4 1068.9L1325.4 1068.1L1327.4 1064.8L1330.4 1061L1331.4 1060.5L1334.4 1060.5L1334.9 1060.5L1335.9 1061.5L1337.9 1064.8L1340.9 1068.7L1341.9 1069.6L1343.9 1070.6L1344.9 1070.9L1345.9 1070.9L1348.9 1069.6L1350.9 1069.1L1352.4 1068.9L1353.9 1069.5L1359.4 1073.2L1362.4 1073.7L1365.4 1073.7L1367.4 1073.2L1369.9 1071.8L1370.9 1070.7L1373.4 1066.7L1376.4 1062.5L1377.9 1061.6L1379.4 1061.3L1379.9 1061.5L1380.9 1062.6L1385.4 1070.1L1387.4 1072.3L1388.9 1073.3L1391.4 1073.9L1393.9 1074.1L1403.4 1074.1L1408.9 1073.7L1410.4 1073.1L1411.9 1072L1413.4 1070.6L1414.4 1069.3L1416.9 1063.6L1418.4 1058.6L1420.4 1049.8L1421.9 1041.7L1427.4 1005.7L1430.9 985.2L1433.9 970.8L1435.4 967L1435.9 966.2L1436.4 966L1436.9 966.4L1437.9 968.4L1438.4 969.9L1438.9 972.4L1440.9 987.7L1442.9 1006.1L1444.9 1015.9L1445.9 1019.7L1447.4 1024.3L1449.9 1029.9L1451.4 1032.6L1452.9 1034.7L1454.9 1036.6L1457.9 1038.6L1459.4 1039.8L1461.4 1041.9L1462.9 1044.1L1463.9 1046L1464.4 1047.7L1467.4 1062.2L1469.4 1067.8L1470.9 1070.9L1471.9 1072.1L1473.4 1072.8L1475.4 1073.3L1477.9 1073.5L1518.9 1073.5L1519.9 1072.7L1520.9 1071.4L1523.4 1067.9L1525.9 1063.7L1526.9 1062.9L1527.4 1062.9L1527.9 1063.2L1528.9 1064.4L1530.9 1067.8L1533.9 1072.1L1534.9 1073.2L1535.9 1073.5L1572.9 1073.3L1573.9 1072.9L1574.9 1072.1L1577.4 1069.9L1580.4 1066.7L1582.4 1065.6L1583.9 1065.2L1585.4 1065.5L1587.9 1066.8L1590.9 1069.9L1594.4 1072.5L1595.9 1073L1599.9 1073.3L1644.9 1073.3L1646.4 1072.9L1649.9 1071.3L1653.9 1070.3L1655.9 1070.1L1657.4 1070.2L1659.4 1070.6L1666.9 1072.9L1672.9 1073.3L1737.4 1073.3L1744.4 1072.4L1750.4 1073L1757.4 1073L1760.4 1072.7L1766.4 1071.7L1768.9 1071.5L1770.4 1071.8L1772.9 1073L1774.4 1073.4L1791.4 1073.4L1793.4 1073.1L1799.4 1071L1801.4 1070.6L1804.4 1071.1L1807.9 1072L1810.9 1073.1L1812.4 1073.4L1883.4 1073.4L1885.9 1073.1L1890.9 1071.8L1894.9 1071L1898.4 1070.6L1900.9 1070.9L1904.4 1071.7L1909.4 1073.4L1921.4 1073.4L1922.9 1073L1926.4 1070.9L1930.9 1068.8L1932.4 1068.4L1936.9 1068.2L1937.9 1068.3L1938.9 1068.7L1942.4 1070.6L1945.4 1072.5L1946.9 1073.1L1952.4 1073.4L1977.5 1073.4" fill="none" stroke="#008a9b" stroke-width="2.0" stroke-linejoin="round" stroke-linecap="round" clip-path="url(#cd)"/>
<path d="M981.9 971.6L982.9 947.2L983.4 944L984.9 943.3L985.9 943.4L986.4 944.4L987.9 950.1L988.4 951.5L988.9 951.8L989.4 950.9L989.9 949.1L991.9 939.8L993.9 935.8L994.9 934.7L995.4 934.7L995.9 935.5L996.9 939.9L998.9 951.6L1000.4 962.8L1001.4 968.8L1003.4 975.2L1003.9 976.2L1004.4 976.7L1004.9 976.6L1005.9 974.4L1007.9 966.7L1010.9 958.4L1011.9 956.5L1012.4 955.9L1012.9 955.8L1013.4 956.2L1014.4 958.3L1016.4 965.1L1018.9 977L1019.9 980.7L1021.4 985.1L1021.9 986L1022.4 986.2L1022.9 985.7L1023.9 982.8L1025.9 974.3L1028.4 959L1028.9 956.9L1029.4 955.7L1030.9 953.1L1031.9 952.1L1032.4 951.8L1034.9 952L1037.9 952.7L1038.9 953.9L1039.9 956L1041.9 962L1047.4 992.1L1048.9 999.4L1049.9 1002.8L1051.4 1006.9L1052.9 1009.7L1053.4 1010.2L1053.9 1010.3L1054.4 1010L1055.4 1008.4L1058.9 999.6L1061.9 991.2L1064.4 987.1L1065.4 985.9L1066.4 985.1L1066.9 985L1067.4 985.1L1068.4 986.3L1074.4 998.4L1075.4 999.7L1075.9 999.9L1076.4 999.9L1076.9 999.3L1077.9 997.2L1080.4 989.6L1083.9 980.3L1084.9 978.4L1085.4 977.8L1085.9 977.6L1086.4 978L1086.9 979.1L1087.9 982.6L1089.9 991.3L1092.4 1004.7L1094.4 1009.9L1094.9 1010.6L1095.4 1010.8L1095.9 1010.4L1096.9 1007.8L1102.9 985.9L1103.9 983.3L1106.4 977.9L1107.4 975L1108.4 970.6L1111.4 953.8L1113.9 945L1114.4 943.9L1114.9 943.3L1115.9 943.4L1118.9 945.2L1121.4 947.4L1121.9 947.5L1122.4 947.3L1123.4 945.3L1127.9 931.3L1128.4 930.3L1128.9 930L1129.4 930.1L1130.4 930.6L1131.4 931.6L1131.9 932.2L1132.4 933.3L1134.9 944.1L1137.9 954.9L1139.4 958.6L1142.9 965.3L1145.9 972.4L1146.9 974.1L1148.9 976.4L1150.9 978L1153.9 979.5L1154.9 980.5L1155.4 981.6L1156.4 985.1L1161.9 1008L1164.4 1014.3L1165.9 1016.7L1166.4 1017.1L1166.9 1017.1L1167.9 1016.7L1171.4 1013.3L1174.4 1010.1L1175.4 1009.5L1175.9 1009.4L1176.4 1009.6L1177.4 1010.5L1179.9 1014L1182.9 1017.2L1183.9 1018.1L1184.9 1018.7L1185.9 1018.8L1186.4 1018.6L1189.9 1014.9L1190.9 1014.6L1191.4 1014.8L1192.9 1016.5L1197.4 1023.3L1198.4 1024L1198.9 1024L1199.9 1023.4L1202.4 1020.9L1204.9 1018.9L1205.9 1018.4L1206.9 1018.6L1207.9 1019.5L1211.9 1024.9L1213.9 1027L1214.9 1027.7L1215.4 1027.7L1216.4 1027L1218.4 1023.4L1220.4 1018.3L1221.4 1016.2L1222.4 1014.8L1223.4 1013.9L1223.9 1013.8L1224.4 1014.1L1225.9 1016.2L1227.4 1019.6L1232.4 1039.2L1235.4 1048.4L1236.9 1051.7L1238.4 1053.4L1239.4 1054.2L1240.4 1054.4L1241.4 1053.6L1244.4 1049.2L1247.4 1043.7L1249.9 1041L1251.4 1040L1253.4 1039.9L1257.4 1040.5L1261.4 1042.6L1265.9 1042.5L1266.9 1041.1L1268.9 1036L1273.9 1017.9L1274.4 1016.7L1275.9 1014.5L1276.9 1013.5L1277.4 1013.3L1277.9 1013.3L1278.4 1013.5L1281.4 1017.3L1284.9 1019.9L1286.4 1021.4L1287.9 1023.7L1290.9 1029.4L1294.4 1035.3L1297.9 1040.3L1299.9 1042.5L1301.9 1043.8L1302.9 1044.1L1303.4 1044L1304.4 1043.2L1306.4 1040.3L1309.4 1036.7L1310.4 1036.2L1311.9 1036.4L1313.4 1036.8L1313.9 1037.2L1316.4 1041.6L1318.9 1045.4L1320.4 1046.6L1321.9 1047.1L1322.4 1046.7L1323.4 1044.3L1325.4 1037.6L1327.9 1027.9L1329.9 1022.6L1330.9 1020.5L1331.9 1019L1333.9 1017.3L1334.9 1016.9L1335.4 1016.9L1336.4 1017.4L1337.4 1018.3L1338.4 1019.5L1339.4 1021.2L1342.9 1029.8L1348.4 1044.9L1350.4 1049.1L1351.9 1051.2L1354.4 1052.3L1355.4 1052.3L1355.9 1052.2L1359.4 1049.6L1363.4 1048L1367.9 1047.1L1368.9 1046.5L1371.4 1044.3L1372.4 1044.2L1373.4 1045.1L1375.4 1048.8L1377.9 1056.7L1379.9 1061.4L1380.9 1062.8L1381.4 1062.9L1381.9 1062.7L1382.9 1061.7L1384.9 1058.6L1387.9 1050.1L1390.9 1043.2L1391.9 1041.8L1393.4 1040.3L1394.4 1039.9L1394.9 1040L1395.9 1041L1397.9 1044.8L1400.9 1054.2L1403.4 1061.1L1404.4 1063.3L1406.9 1067.3L1407.9 1068.2L1408.9 1068.3L1409.9 1067.7L1410.9 1066.6L1411.9 1065.2L1412.4 1063.9L1414.4 1055.6L1415.9 1046.1L1417.9 1027.4L1422.4 975.7L1427.9 920.2L1430.9 887.3L1431.9 880L1433.9 870.3L1435.4 865.5L1435.9 864.8L1436.4 864.7L1436.9 865.2L1437.9 868.2L1439.4 875.2L1439.9 879L1443.4 921.9L1446.9 954.9L1452.9 1005L1454.4 1014.9L1456.4 1024.2L1457.9 1029.6L1458.9 1032L1459.4 1032.6L1460.4 1033.4L1463.9 1034.8L1465.4 1035.6L1467.4 1037.3L1468.9 1038.8L1471.4 1042L1474.9 1049.7L1476.4 1052.4L1479.4 1055.6L1481.4 1056.9L1482.4 1057.1L1483.4 1056.9L1486.9 1054.6L1488.4 1054.2L1489.9 1054.9L1493.4 1058.2L1494.9 1059L1495.9 1059.1L1496.9 1058.9L1500.9 1057.4L1502.9 1057.1L1504.4 1057.5L1507.9 1059.5L1509.4 1060L1518.9 1060L1519.9 1059.6L1520.9 1058.9L1524.4 1055.6L1526.4 1053.1L1526.9 1052.8L1527.4 1052.8L1527.9 1053.2L1528.9 1055L1530.9 1060.1L1535.4 1070.5L1536.4 1071.9L1536.9 1072.3L1537.4 1072.4L1538.4 1072.3L1539.9 1071.7L1545.9 1067.9L1547.4 1067.2L1548.9 1066.8L1549.9 1066.9L1550.9 1067.5L1553.9 1070L1555.9 1072.1L1556.9 1072.9L1563.4 1073L1565.4 1072.3L1568.4 1070.4L1573.4 1067.7L1575.4 1067L1578.9 1066.4L1581.9 1066.5L1585.4 1067.6L1586.4 1068.1L1589.4 1070.4L1591.9 1071.5L1593.4 1071.8L1594.4 1071.5L1596.9 1070.1L1599.4 1069.2L1600.9 1068.9L1609.4 1070.6L1613.4 1070.9L1619.9 1070.8L1620.9 1070.4L1623.9 1068.1L1626.9 1066.7L1628.4 1066.3L1629.9 1066.4L1636.9 1069.4L1640.4 1069.8L1642.9 1069.8L1645.9 1069L1648.9 1068L1652.9 1066.3L1656.9 1065L1658.4 1064.9L1662.9 1064.9L1664.9 1065.2L1667.9 1066.7L1671.9 1069.8L1674.9 1071.8L1676.4 1072.5L1677.4 1072.7L1681.9 1073L1683.4 1072.6L1686.4 1071.3L1691.4 1070.7L1693.9 1071L1700.4 1072.9L1707.4 1073L1708.4 1072.7L1711.4 1070.8L1713.9 1069.6L1715.4 1069.1L1716.4 1068.9L1718.4 1069.2L1720.9 1070L1725.4 1072.5L1729.4 1073.4L1732.4 1073.5L1735.4 1073L1737.9 1072L1740.9 1068.3L1743.4 1065.5L1744.4 1064.6L1745.4 1064.3L1749.4 1064.4L1750.4 1065.1L1751.9 1066.7L1754.9 1069.4L1756.4 1070.1L1760.4 1069.5L1769.4 1069.7L1770.9 1069.5L1772.9 1069L1773.4 1068.6L1774.4 1067.3L1776.4 1063.5L1779.9 1057.6L1781.9 1055.6L1783.4 1054.7L1783.9 1054.8L1784.9 1055.2L1787.4 1057.5L1793.4 1067L1795.4 1069.7L1797.4 1071.2L1799.4 1072.3L1801.9 1073.1L1803.9 1073.4L1809.4 1073.3L1811.9 1073.1L1812.9 1072.8L1816.4 1071L1820.4 1067.6L1822.9 1066.4L1824.9 1065.9L1826.4 1066.2L1828.9 1067.3L1831.9 1069.6L1832.9 1070.1L1835.9 1071.1L1837.9 1071.1L1839.4 1070.5L1841.9 1068.9L1845.4 1065.8L1847.9 1064.5L1849.9 1064.2L1851.4 1064.4L1853.9 1065.5L1860.4 1071.7L1862.9 1072.9L1864.9 1073.4L1866.9 1073.4L1871.4 1072.7L1876.4 1072.3L1882.9 1073.1L1890.9 1073.4L1928.4 1073.4L1931.4 1072.6L1938.9 1069.4L1941.9 1068.6L1943.9 1068.4L1945.4 1068.7L1947.4 1069.4L1951.4 1071.7L1953.9 1072.9L1955.4 1073.4L1977.5 1073.4" fill="none" stroke="#a238cb" stroke-width="2.0" stroke-linejoin="round" stroke-linecap="round" clip-path="url(#cd)"/>
<path d="M982 604.6V1096.9H1977.5" stroke="#000" stroke-width="1.7" fill="none" stroke-linejoin="miter"/>
<path d="M982 1094.6H977.5M982 1083.9H977.5M982 1073.3H977.5M982 1062.7H977.5M982 1052H977.5M982 1041.4H977.5M982 1030.8H977.5M982 1020.2H977.5M982 1009.5H977.5M982 998.9H977.5M982 988.3H977.5M982 977.6H977.5M982 967H977.5M982 956.4H977.5M982 945.8H977.5M982 935.1H977.5M982 924.5H977.5M982 913.9H977.5M982 903.3H977.5M982 892.6H977.5M982 882H977.5M982 871.4H977.5M982 860.7H977.5M982 850.1H977.5M982 839.5H977.5M982 828.9H977.5M982 818.2H977.5M982 807.6H977.5M982 797H977.5M982 786.3H977.5M982 775.7H977.5M982 765.1H977.5M982 754.5H977.5M982 743.8H977.5M982 733.2H977.5M982 722.6H977.5M982 711.9H977.5M982 701.3H977.5M982 690.7H977.5M982 680.1H977.5M982 669.4H977.5M982 658.8H977.5M982 648.2H977.5M982 637.6H977.5M982 626.9H977.5M982 616.3H977.5M982 605.7H977.5M982 1073.3H974M982 1020.2H974M982 967H974M982 913.9H974M982 860.7H974M982 807.6H974M982 754.5H974M982 701.3H974M982 648.2H974M996.9 1096.9V1102.2M1021.8 1096.9V1102.2M1046.7 1096.9V1102.2M1071.6 1096.9V1102.2M1096.5 1096.9V1102.2M1121.4 1096.9V1102.2M1146.3 1096.9V1102.2M1171.2 1096.9V1102.2M1196.2 1096.9V1102.2M1221.1 1096.9V1102.2M1246 1096.9V1102.2M1270.9 1096.9V1102.2M1295.8 1096.9V1102.2M1320.7 1096.9V1102.2M1345.6 1096.9V1102.2M1370.5 1096.9V1102.2M1395.4 1096.9V1102.2M1420.3 1096.9V1102.2M1445.3 1096.9V1102.2M1470.2 1096.9V1102.2M1495.1 1096.9V1102.2M1520 1096.9V1102.2M1544.9 1096.9V1102.2M1569.8 1096.9V1102.2M1594.7 1096.9V1102.2M1619.6 1096.9V1102.2M1644.5 1096.9V1102.2M1669.5 1096.9V1102.2M1694.4 1096.9V1102.2M1719.3 1096.9V1102.2M1744.2 1096.9V1102.2M1769.1 1096.9V1102.2M1794 1096.9V1102.2M1818.9 1096.9V1102.2M1843.8 1096.9V1102.2M1868.7 1096.9V1102.2M1893.6 1096.9V1102.2M1918.6 1096.9V1102.2M1943.5 1096.9V1102.2M1968.4 1096.9V1102.2M1046.7 1096.9V1105.8M1171.2 1096.9V1105.8M1295.8 1096.9V1105.8M1420.3 1096.9V1105.8M1544.9 1096.9V1105.8M1669.5 1096.9V1105.8M1794 1096.9V1105.8M1918.6 1096.9V1105.8" stroke="#000" stroke-width="1.4" fill="none"/>
<text transform="translate(969.4 1077.9) scale(1.125 1)" font-size="17.2" text-anchor="end">0</text>
<text transform="translate(969.4 1024.8) scale(1.125 1)" font-size="17.2" text-anchor="end">2500</text>
<text transform="translate(969.4 971.6) scale(1.125 1)" font-size="17.2" text-anchor="end">5000</text>
<text transform="translate(972.6 918.5) scale(1.125 1)" font-size="17.2" text-anchor="end">7500</text>
<text transform="translate(974 865.3) scale(1.125 1)" font-size="17.2" text-anchor="end">10000</text>
<text transform="translate(974.6 812.2) scale(1.125 1)" font-size="17.2" text-anchor="end">12500</text>
<text transform="translate(974.4 759.1) scale(1.125 1)" font-size="17.2" text-anchor="end">15000</text>
<text transform="translate(975.4 705.9) scale(1.125 1)" font-size="17.2" text-anchor="end">17500</text>
<text transform="translate(969.4 652.8) scale(1.125 1)" font-size="17.2" text-anchor="end">20000</text>
<text transform="translate(1051.3 1126.7) scale(1.075 1)" font-size="17.6" text-anchor="middle">10.25</text>
<text transform="translate(1175.8 1126.7) scale(1.075 1)" font-size="17.6" text-anchor="middle">10.50</text>
<text transform="translate(1300.4 1126.7) scale(1.075 1)" font-size="17.6" text-anchor="middle">10.75</text>
<text transform="translate(1424.9 1126.7) scale(1.075 1)" font-size="17.6" text-anchor="middle">11.00</text>
<text transform="translate(1549.5 1126.7) scale(1.075 1)" font-size="17.6" text-anchor="middle">11.25</text>
<text transform="translate(1674 1126.7) scale(1.075 1)" font-size="17.6" text-anchor="middle">11.50</text>
<text transform="translate(1798.6 1126.7) scale(1.075 1)" font-size="17.6" text-anchor="middle">11.75</text>
<text x="1900.1" y="1126.7" font-size="17.6" textLength="83" lengthAdjust="spacingAndGlyphs">12.00 min</text>
<text x="1018.6" y="629.9" font-size="26.2" font-weight="bold" textLength="107.5" lengthAdjust="spacingAndGlyphs">AES 062</text>
<text x="892" y="602.8" font-size="37" font-weight="bold">d</text>
<line x1="1439.6" y1="677.1" x2="1500.6" y2="677.1" stroke="#000" stroke-width="1.45" stroke-dasharray="4.3 2.5"/>
<text x="1507.5" y="682.9" font-size="22.3" textLength="338" lengthAdjust="spacingAndGlyphs">Oleanonic / Moronic Acids TIC(+)</text>
<line x1="1439.6" y1="868.7" x2="1500.6" y2="868.7" stroke="#000" stroke-width="1.45" stroke-dasharray="4.3 2.5"/>
<text x="1507.5" y="874.5" font-size="22.5" fill="#a238cb" textLength="338" lengthAdjust="spacingAndGlyphs">455.0000&gt;409.1500(+) CE: -20.0</text>
<line x1="1439.6" y1="976.9" x2="1500.6" y2="976.9" stroke="#000" stroke-width="1.45" stroke-dasharray="4.3 2.5"/>
<text x="1507.5" y="982.1" font-size="22.5" fill="#008a9b" textLength="338" lengthAdjust="spacingAndGlyphs">455.0000&gt;203.2000(+) CE: -28.0</text>
<text x="1185.2" y="941.8" font-size="22.5" fill="#e86c00" textLength="233.5" lengthAdjust="spacingAndGlyphs">437.0000&gt;189.2000(+)</text>
<text x="1319.4" y="968.4" font-size="22.5" fill="#e86c00" textLength="96.8" lengthAdjust="spacingAndGlyphs">CE: -29.0</text>
<line x1="1387.9" y1="971.4" x2="1438.1" y2="1029" stroke="#000" stroke-width="1.45" stroke-dasharray="4.3 2.5"/>
<text x="0" y="1205.2" font-size="37" font-weight="bold">e</text>
<path d="M208.2 1410.4L251.2 1386.2L294.2 1410.6L294.4 1460.7L251.3 1485.9L208.2 1461L208.2 1410.4" stroke="#000" stroke-width="3.0" fill="none" stroke-linejoin="round" stroke-linecap="round"/>
<path d="M251.2 1386.2L251 1336L294 1310.7L337.4 1335.9L337.4 1386.2L294.2 1410.6" stroke="#000" stroke-width="3.0" fill="none" stroke-linejoin="round" stroke-linecap="round"/>
<path d="M337.4 1335.9L384.4 1321.1L413.2 1361.1L384.4 1401.6L337.4 1386.2" stroke="#000" stroke-width="3.0" fill="none" stroke-linejoin="round" stroke-linecap="round"/>
<path d="M208.9 1410.4L212.1 1361.3L204.3 1361.3L207.4 1410.4Z" fill="#000"/>
<path d="M294.9 1410.6L297.7 1361.3L290.3 1361.3L293.5 1410.6Z" fill="#000"/>
<path d="M336.1 1391.1L338.7 1391.1M335.8 1396.5L339 1396.5M335.4 1402L339.2 1402M335.1 1407.5L339.5 1407.5M334.8 1412.9L339.8 1412.9M334.4 1418.4L340.1 1418.4M334.1 1423.9L340.4 1423.9M333.7 1429.3L340.7 1429.3M333.4 1434.8L341 1434.8" stroke="#000" stroke-width="2.0" fill="none"/>
<path d="M385.3 1321.4L403.9 1274.2L396.7 1271.8L383.5 1320.8Z" fill="#000"/>
<path d="M400.3 1273L448 1263.1L482.1 1299.5L466.2 1347.9" stroke="#000" stroke-width="3.0" fill="none" stroke-linejoin="round" stroke-linecap="round"/>
<line x1="466.2" y1="1347.9" x2="498.7" y2="1384.2" stroke="#000" stroke-width="3.0" stroke-linecap="round"/>
<line x1="474.7" y1="1346.9" x2="498.7" y2="1373.7" stroke="#000" stroke-width="3.0" stroke-linecap="round"/>
<path d="M548.7 1374.1L498.7 1384.2L484.3 1431.6" stroke="#000" stroke-width="3.0" fill="none" stroke-linejoin="round" stroke-linecap="round"/>
<path d="M208.2 1410.4L165 1386L121.9 1410.5L121.9 1460.5L165 1485.9L208.2 1461" stroke="#000" stroke-width="3.0" fill="none" stroke-linejoin="round" stroke-linecap="round"/>
<path d="M164.1 1485.4L138 1525.8L145.2 1529.8L165.9 1486.4Z" fill="#000"/>
<path d="M166.3 1490.7L168.5 1489.4M168.5 1495.1L171.2 1493.5M170.7 1499.4L173.9 1497.5M172.9 1503.7L176.6 1501.6M175.1 1508.1L179.2 1505.6M177.3 1512.4L181.9 1509.7M179.4 1516.7L184.6 1513.7M181.6 1521L187.2 1517.8M183.8 1525.4L189.9 1521.8M186 1529.7L192.6 1525.9" stroke="#000" stroke-width="2.0" fill="none"/>
<line x1="403.8" y1="1271.2" x2="369.8" y2="1234.4" stroke="#000" stroke-width="3.0" stroke-linecap="round"/>
<line x1="398.2" y1="1276.3" x2="364.2" y2="1239.6" stroke="#000" stroke-width="3.0" stroke-linecap="round"/>
<line x1="120.6" y1="1457.1" x2="90.7" y2="1474.1" stroke="#000" stroke-width="3.0" stroke-linecap="round"/>
<line x1="124.1" y1="1463.4" x2="94.3" y2="1480.3" stroke="#000" stroke-width="3.0" stroke-linecap="round"/>
<text x="78.8" y="1496.2" font-size="26.5" text-anchor="middle">O</text>
<text x="329.7" y="1596.8" font-size="26.5" text-anchor="middle" textLength="214" lengthAdjust="spacingAndGlyphs">Dammaradienone</text>
<line x1="591.1" y1="1372.8" x2="666.5" y2="1372.8" stroke="#000" stroke-width="3.2"/>
<path d="M690.5 1372.8Q675.5 1367.8 659.9 1364.2L663.2 1372.8L659.9 1381.1Q675.5 1377.8 690.5 1372.8Z" fill="#000"/>
<path d="M851.8 1410.4L894.8 1386.2L937.8 1410.6L938 1460.7L894.9 1485.9L851.8 1461L851.8 1410.4" stroke="#000" stroke-width="3.0" fill="none" stroke-linejoin="round" stroke-linecap="round"/>
<path d="M894.8 1386.2L894.6 1336L937.6 1310.7L981 1335.9L981 1386.2L937.8 1410.6" stroke="#000" stroke-width="3.0" fill="none" stroke-linejoin="round" stroke-linecap="round"/>
<path d="M981 1335.9L1028 1321.1L1056.8 1361.1L1028 1401.6L981 1386.2" stroke="#000" stroke-width="3.0" fill="none" stroke-linejoin="round" stroke-linecap="round"/>
<path d="M852.5 1410.4L855.7 1361.3L847.9 1361.3L851 1410.4Z" fill="#000"/>
<path d="M938.5 1410.6L941.3 1361.3L933.9 1361.3L937.1 1410.6Z" fill="#000"/>
<path d="M979.7 1391.1L982.3 1391.1M979.4 1396.5L982.6 1396.5M979 1402L982.8 1402M978.7 1407.5L983.1 1407.5M978.4 1412.9L983.4 1412.9M978 1418.4L983.7 1418.4M977.7 1423.9L984 1423.9M977.3 1429.3L984.3 1429.3M977 1434.8L984.6 1434.8" stroke="#000" stroke-width="2.0" fill="none"/>
<path d="M1028.9 1321.4L1047.5 1274.2L1040.3 1271.8L1027.1 1320.8Z" fill="#000"/>
<path d="M1043.9 1273L1091.6 1263.1L1125.7 1299.5L1109.8 1347.9" stroke="#000" stroke-width="3.0" fill="none" stroke-linejoin="round" stroke-linecap="round"/>
<line x1="1109.8" y1="1347.9" x2="1142.3" y2="1384.2" stroke="#000" stroke-width="3.0" stroke-linecap="round"/>
<line x1="1118.3" y1="1346.9" x2="1142.3" y2="1373.7" stroke="#000" stroke-width="3.0" stroke-linecap="round"/>
<path d="M1192.3 1374.1L1142.3 1384.2L1127.9 1431.6" stroke="#000" stroke-width="3.0" fill="none" stroke-linejoin="round" stroke-linecap="round"/>
<path d="M851.8 1410.4L808.6 1386L765.5 1410.5L765.5 1460.5L808.6 1485.9L851.8 1461" stroke="#000" stroke-width="3.0" fill="none" stroke-linejoin="round" stroke-linecap="round"/>
<path d="M807.7 1485.4L781.6 1525.8L788.8 1529.8L809.5 1486.4Z" fill="#000"/>
<path d="M809.9 1490.7L812.1 1489.4M812.1 1495.1L814.8 1493.5M814.3 1499.4L817.5 1497.5M816.5 1503.7L820.2 1501.6M818.7 1508.1L822.8 1505.6M820.9 1512.4L825.5 1509.7M823 1516.7L828.2 1513.7M825.2 1521L830.8 1517.8M827.4 1525.4L833.5 1521.8M829.6 1529.7L836.2 1525.9" stroke="#000" stroke-width="2.0" fill="none"/>
<line x1="765.5" y1="1460.5" x2="735.8" y2="1477.2" stroke="#000" stroke-width="3.0" stroke-linecap="round"/>
<text x="713.7" y="1495.2" font-size="26.5">R</text>
<line x1="1043.9" y1="1273" x2="1010.5" y2="1236.6" stroke="#000" stroke-width="3.0" stroke-linecap="round"/>
<line x1="1043.9" y1="1271.1" x2="1053.7" y2="1241.2" stroke="#000" stroke-width="3.1" stroke-dasharray="3.5 4.7" stroke-dashoffset="6.9"/>
<text x="1048.6" y="1235.2" font-size="26.5">OH</text>
<text x="1019.3" y="1596.5" font-size="26.5" text-anchor="middle" textLength="318" lengthAdjust="spacingAndGlyphs">R=O Hydroxyammarenone</text>
<text x="1018.8" y="1628.4" font-size="26.5" text-anchor="middle" textLength="265" lengthAdjust="spacingAndGlyphs">R-OH Dammarenediol</text>
<line x1="1233.5" y1="1372.7" x2="1308.5" y2="1372.7" stroke="#000" stroke-width="3.2"/>
<path d="M1332.5 1372.7Q1317.5 1367.7 1301.9 1364.1L1305.2 1372.7L1301.9 1381Q1317.5 1377.7 1332.5 1372.7Z" fill="#000"/>
<path d="M1576.5 1405.6L1619.5 1381.4L1662.5 1405.8L1662.7 1455.9L1619.6 1481.1L1576.5 1456.2L1576.5 1405.6" stroke="#000" stroke-width="3.0" fill="none" stroke-linejoin="round" stroke-linecap="round"/>
<path d="M1619.5 1381.4L1619.3 1331.2L1662.3 1305.9L1705.7 1331.1L1705.7 1381.4L1662.5 1405.8" stroke="#000" stroke-width="3.0" fill="none" stroke-linejoin="round" stroke-linecap="round"/>
<path d="M1705.7 1331.1L1752.7 1316.3L1781.5 1356.3L1752.7 1396.8L1705.7 1381.4" stroke="#000" stroke-width="3.0" fill="none" stroke-linejoin="round" stroke-linecap="round"/>
<path d="M1577.2 1405.6L1580.4 1356.5L1572.6 1356.5L1575.8 1405.6Z" fill="#000"/>
<path d="M1663.2 1405.8L1666 1356.5L1658.6 1356.5L1661.8 1405.8Z" fill="#000"/>
<path d="M1704.4 1386.3L1707 1386.3M1704.1 1391.7L1707.3 1391.7M1703.7 1397.2L1707.5 1397.2M1703.4 1402.7L1707.8 1402.7M1703.1 1408.1L1708.1 1408.1M1702.7 1413.6L1708.4 1413.6M1702.4 1419.1L1708.7 1419.1M1702 1424.5L1709 1424.5M1701.7 1430L1709.3 1430" stroke="#000" stroke-width="2.0" fill="none"/>
<path d="M1753.6 1316.6L1772.2 1269.4L1765 1267L1751.8 1316Z" fill="#000"/>
<path d="M1768.6 1268.2L1816.3 1258.3L1850.4 1294.7L1834.5 1343.1" stroke="#000" stroke-width="3.0" fill="none" stroke-linejoin="round" stroke-linecap="round"/>
<line x1="1834.5" y1="1343.1" x2="1867" y2="1379.4" stroke="#000" stroke-width="3.0" stroke-linecap="round"/>
<line x1="1843" y1="1342.1" x2="1867" y2="1368.9" stroke="#000" stroke-width="3.0" stroke-linecap="round"/>
<path d="M1917 1369.3L1867 1379.4L1852.6 1426.8" stroke="#000" stroke-width="3.0" fill="none" stroke-linejoin="round" stroke-linecap="round"/>
<line x1="1768.6" y1="1268.2" x2="1735.2" y2="1231.8" stroke="#000" stroke-width="3.0" stroke-linecap="round"/>
<line x1="1768.6" y1="1266.3" x2="1778.4" y2="1236.4" stroke="#000" stroke-width="3.1" stroke-dasharray="3.5 4.7" stroke-dashoffset="6.9"/>
<text x="1773.1" y="1230.5" font-size="26.5">OH</text>
<path d="M1576.5 1405.6L1533.3 1381L1490 1406L1446.6 1382L1417.5 1398.6" stroke="#000" stroke-width="3.0" fill="none" stroke-linejoin="round" stroke-linecap="round"/>
<line x1="1450.3" y1="1382.5" x2="1450.5" y2="1348" stroke="#000" stroke-width="3.0" stroke-linecap="round"/>
<line x1="1442.9" y1="1382.5" x2="1443.1" y2="1348" stroke="#000" stroke-width="3.0" stroke-linecap="round"/>
<text x="1446.6" y="1341.8" font-size="26.5" text-anchor="middle">O</text>
<text x="1374.2" y="1416.5" font-size="26.5">HO</text>
<path d="M1576.5 1456.2L1533.3 1481L1533.3 1529.9" stroke="#000" stroke-width="3.0" fill="none" stroke-linejoin="round" stroke-linecap="round"/>
<line x1="1536.1" y1="1478.1" x2="1492.2" y2="1452.5" stroke="#000" stroke-width="3.0" stroke-linecap="round"/>
<line x1="1532.2" y1="1484.9" x2="1488.2" y2="1459.3" stroke="#000" stroke-width="3.0" stroke-linecap="round"/>
<text x="1686.4" y="1596.8" font-size="26.5" text-anchor="middle" textLength="230" lengthAdjust="spacingAndGlyphs">Dammarenolic acid</text>
</svg></body></html>
